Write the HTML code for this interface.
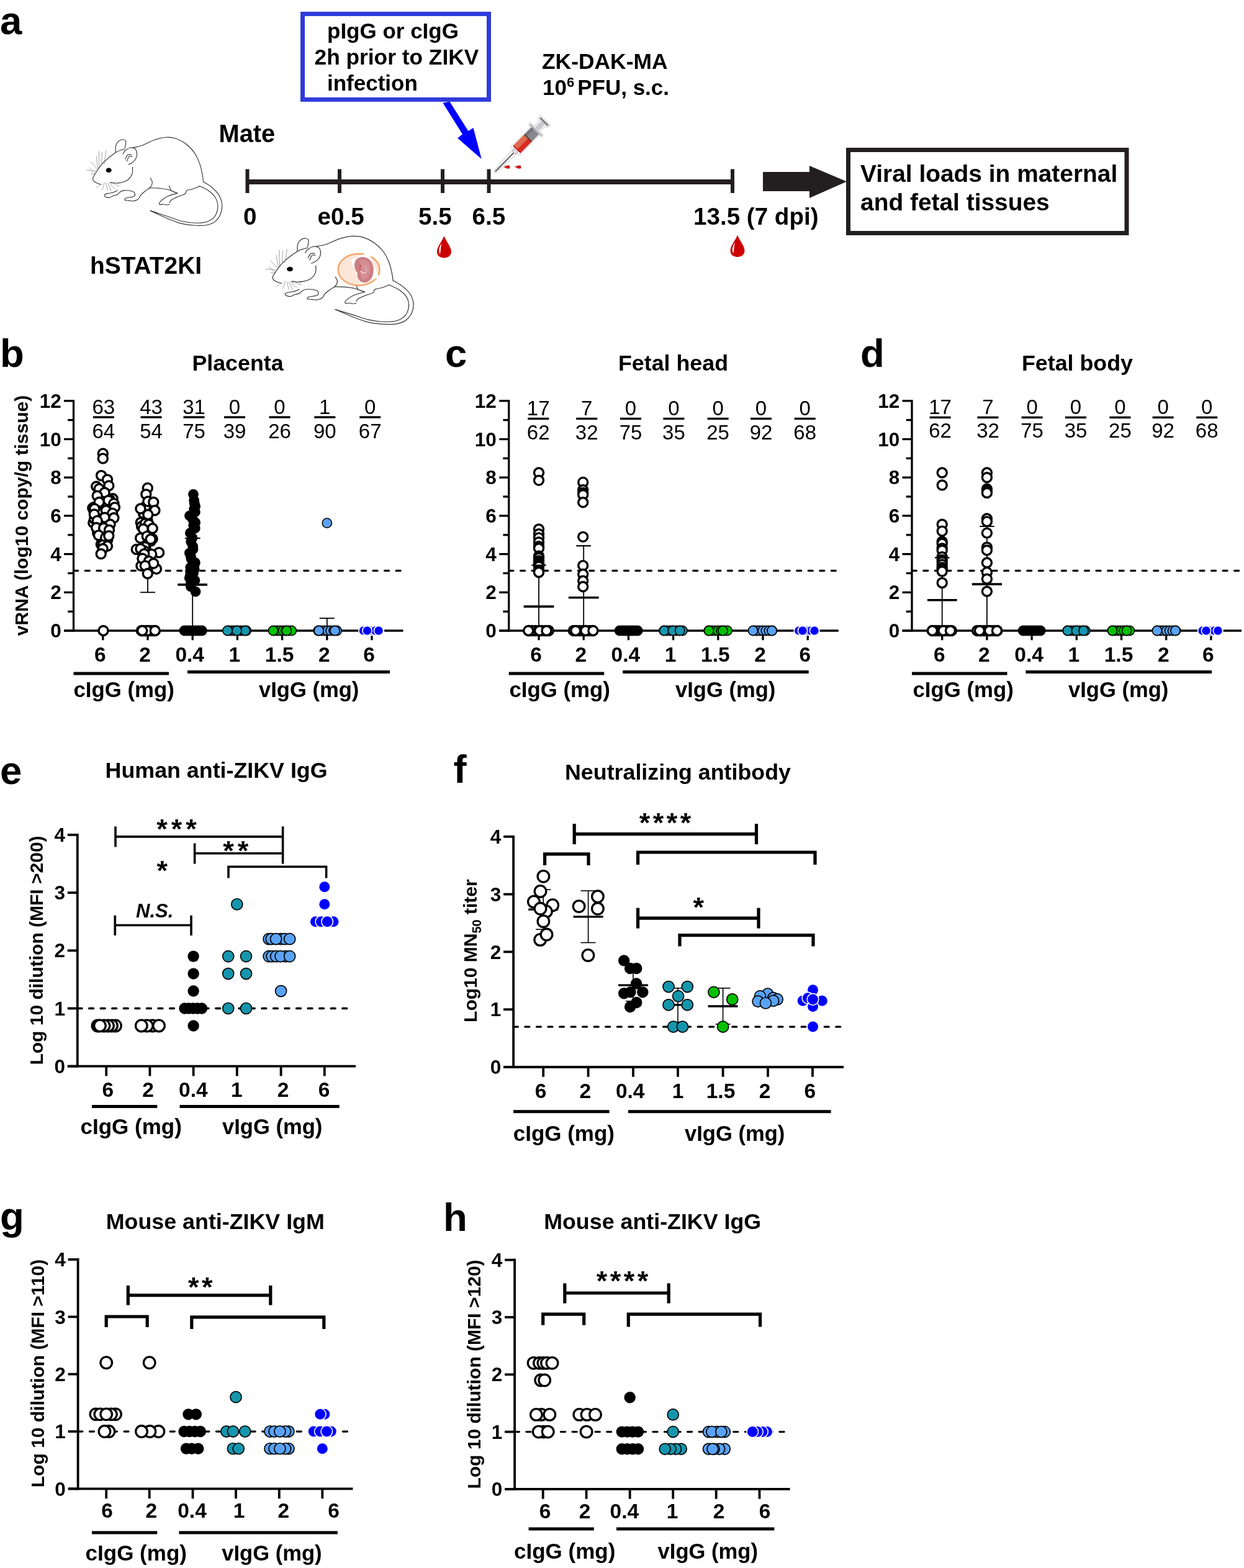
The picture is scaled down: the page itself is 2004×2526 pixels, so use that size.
<!DOCTYPE html>
<html><head><meta charset="utf-8"><title>Figure</title>
<style>html,body{margin:0;padding:0;background:#fff;}svg{display:block;}</style></head>
<body><svg width="2004" height="2526" viewBox="0 0 2004 2526" font-family="&quot;Liberation Sans&quot;, Arial, Helvetica, sans-serif">
<rect width="2004" height="2526" fill="#fff"/>
<text x="0" y="54.5" font-size="63.5" font-weight="bold" text-anchor="start" fill="#000" >a</text>
<rect x="487.5" y="22.4" width="300" height="138" fill="none" stroke="#2e3bdb" stroke-width="7"/>
<text x="527" y="61.7" font-size="35" font-weight="bold" text-anchor="start" fill="#000" >pIgG or cIgG</text>
<text x="506.5" y="103.7" font-size="35.3" font-weight="bold" text-anchor="start" fill="#000" >2h prior to ZIKV</text>
<text x="527" y="145.7" font-size="35" font-weight="bold" text-anchor="start" fill="#000" >infection</text>
<polygon points="713.4,165.7 724.5,163.7 754.3,211 762.5,206.1 775.7,256.1 737.1,222.5 745,216.3" fill="#0000ff"/>
<text x="352.5" y="229" font-size="39.8" font-weight="bold" text-anchor="start" fill="#000" >Mate</text>
<text x="145" y="441.3" font-size="38.9" font-weight="bold" text-anchor="start" fill="#000" >hSTAT2KI</text>
<rect x="398.5" y="289" width="781.5" height="8" fill="#231f20"/>
<rect x="395.5" y="272.5" width="6" height="38.5" fill="#231f20"/>
<rect x="544" y="272.5" width="6" height="38.5" fill="#231f20"/>
<rect x="710" y="272.5" width="6" height="38.5" fill="#231f20"/>
<rect x="784.5" y="272.5" width="6" height="38.5" fill="#231f20"/>
<rect x="1177" y="272.5" width="6" height="38.5" fill="#231f20"/>
<text x="392" y="361.5" font-size="38.6" font-weight="bold" text-anchor="start" fill="#000" >0</text>
<text x="511.5" y="361.5" font-size="38.6" font-weight="bold" text-anchor="start" fill="#000" >e0.5</text>
<text x="674" y="361.5" font-size="38.6" font-weight="bold" text-anchor="start" fill="#000" >5.5</text>
<text x="760.5" y="361.5" font-size="38.6" font-weight="bold" text-anchor="start" fill="#000" >6.5</text>
<text x="1117" y="361.5" font-size="38.6" font-weight="bold" text-anchor="start" fill="#000" >13.5 (7 dpi)</text>
<path d="M715.4,380 C718.4,389 726.9,397 726.9,405.5 C726.9,412 721.4,415.5 715.4,415.5 C709.4,415.5 703.9,412 703.9,405.5 C703.9,397 712.4,389 715.4,380 Z" fill="#cc0000"/>
<path d="M711.4,392 C707.4,398 705.9,404 708.9,410 C709.9,404 709.9,398 711.4,392 Z" fill="#ffffff"/>
<path d="M1188,378.5 C1191,387.5 1199.5,395.5 1199.5,404 C1199.5,410.5 1194,414 1188,414 C1182,414 1176.5,410.5 1176.5,404 C1176.5,395.5 1185,387.5 1188,378.5 Z" fill="#cc0000"/>
<path d="M1184,390.5 C1180,396.5 1178.5,402.5 1181.5,408.5 C1182.5,402.5 1182.5,396.5 1184,390.5 Z" fill="#ffffff"/>
<text x="873" y="111" font-size="35.4" font-weight="bold" text-anchor="start" fill="#000" >ZK-DAK-MA</text>
<text x="874" y="153" font-size="35" font-weight="bold">10<tspan font-size="22" dy="-13">6</tspan><tspan dy="13" dx="5">PFU, s.c.</tspan></text>
<polygon points="1229,277 1304,277 1304,267 1364,292.5 1304,319 1304,308 1229,308" fill="#231f20"/>
<rect x="1366.5" y="241.5" width="448.5" height="134" fill="none" stroke="#231f20" stroke-width="7"/>
<text x="1386" y="293" font-size="38.9" font-weight="bold" text-anchor="start" fill="#000" >Viral loads in maternal</text>
<text x="1386" y="339" font-size="38.9" font-weight="bold" text-anchor="start" fill="#000" >and fetal tissues</text>
<g transform="translate(797.5,276.7) rotate(-45.6)">
<path d="M-1,-2 L44,-5 L48,-9.5 L92,-9.5 L92,-14.5 L96.5,-14.5 L96.5,-6 L110,-6 L110,-11 L116,-11 L116,11 L110,11 L110,6 L96.5,6 L96.5,14.5 L92,14.5 L92,9.5 L48,9.5 L44,5 L-1,2 Z" fill="#ffffff" stroke="#e6e6e6" stroke-width="2.5" stroke-linejoin="round"/>
<line x1="0.5" y1="0" x2="45" y2="0" stroke="#4a4a4a" stroke-width="1.8"/>
<line x1="2" y1="1.2" x2="44" y2="1.2" stroke="#bdbdbd" stroke-width="0.8"/>
<circle cx="47" cy="0" r="4.6" fill="#dcdce0" stroke="#9a9a9e" stroke-width="0.8"/>
<rect x="50" y="-8.2" width="26" height="16.4" fill="#d92a22"/>
<rect x="50" y="-8.2" width="26" height="8.6" fill="#df6a4e"/>
<rect x="50" y="-8.2" width="1.5" height="16.4" fill="#c0161a"/>
<rect x="76" y="-8.2" width="16.6" height="16.4" fill="#88888e"/>
<rect x="76" y="-8.2" width="16.6" height="5" fill="#75757b"/>
<line x1="76" y1="-8.2" x2="76" y2="8.2" stroke="#1e1e1e" stroke-width="1.2"/>
<rect x="92.6" y="-13" width="2.8" height="26" fill="#b4b4bc"/>
<rect x="95.4" y="-4" width="16" height="8" fill="#c9c9d0"/>
<rect x="111.4" y="-9" width="3" height="18" fill="#7e7e86"/>
</g>
<path d="M810.5,269 C814.5,266.4 817.5,265.8 819,265.8 C821,265.8 822,267 822,269 C822,271 821,272.2 819,272.2 C817.5,272.2 814.5,271.6 810.5,269 Z" fill="#d0141a" stroke="#f2e2e2" stroke-width="1.2"/>
<path d="M828.5,269 C832.5,266.4 835.5,265.8 837,265.8 C839,265.8 840,267 840,269 C840,271 839,272.2 837,272.2 C835.5,272.2 832.5,271.6 828.5,269 Z" fill="#d0141a" stroke="#f2e2e2" stroke-width="1.2"/>
<g transform="translate(130,210) scale(0.14035,0.14035)" fill="none" stroke-linecap="round" stroke-linejoin="round">
<path d="M600,198 C650,184.67 658.33,190 700,175 C741.67,160 803.33,123.83 850,108 C896.67,92.17 940,82.67 980,80 C1020,77.33 1053.33,80.33 1090,92 C1126.67,103.67 1165,123.67 1200,150 C1235,176.33 1272.5,211.67 1300,250 C1327.5,288.33 1349.17,338.33 1365,380 C1380.83,421.67 1387.83,465 1395,500 C1402.17,535 1413,566.67 1408,590 C1403,613.33 1384.67,626.33 1365,640 C1345.33,653.67 1315,663.33 1290,672 C1265,680.67 1245,683.67 1215,692 C1185,700.33 1144.17,723.67 1110,722 C1075.83,720.33 1045,691.67 1010,682 C975,672.33 936.67,667.67 900,664 C863.33,660.33 828.67,640.33 790,660 C751.33,679.67 696.33,770.67 668,782 C639.67,793.33 648,743.33 620,728 C592,712.67 533.33,688.33 500,690 C466.67,691.67 446.67,753 420,738 C393.33,723 370.83,619.33 340,600 C309.17,580.67 266.67,625 235,622 C203.33,619 162.5,601 150,582 C137.5,563 143.33,541.67 160,508 C176.67,474.33 210,422.17 250,380 C290,337.83 341.67,285.33 400,255 C458.33,224.67 550,211.33 600,198Z" fill="white" stroke="none"/>
<path d="M600,198 C616.67,194.17 658.33,190 700,175 C741.67,160 803.33,123.83 850,108 C896.67,92.17 940,82.67 980,80 C1020,77.33 1053.33,80.33 1090,92 C1126.67,103.67 1165,123.67 1200,150 C1235,176.33 1272.5,211.67 1300,250 C1327.5,288.33 1349.17,338.33 1365,380 C1380.83,421.67 1387.83,465 1395,500 C1402.17,535 1405.83,575 1408,590" stroke="#333" stroke-width="8"/>
<path d="M1408,590 C1423.33,600 1470.5,625 1500,650 C1529.5,675 1564.67,706.67 1585,740 C1605.33,773.33 1618.67,813.33 1622,850 C1625.33,886.67 1618.67,927 1605,960 C1591.33,993 1567.5,1026.67 1540,1048 C1512.5,1069.33 1480,1081 1440,1088 C1400,1095 1348.33,1093.33 1300,1090 C1251.67,1086.67 1201.67,1081.33 1150,1068 C1098.33,1054.67 1048.33,1034.33 990,1010 C931.67,985.67 831.67,936.67 800,922" stroke="#333" stroke-width="8"/>
<path d="M800,922 C833.33,933 941.67,968.33 1000,988 C1058.33,1007.67 1100,1027.67 1150,1040 C1200,1052.33 1253.33,1059.5 1300,1062 C1346.67,1064.5 1392,1065.33 1430,1055 C1468,1044.67 1504.33,1025.83 1528,1000 C1551.67,974.17 1567.33,935 1572,900 C1576.67,865 1571.67,823.33 1556,790 C1540.33,756.67 1509.83,725 1478,700 C1446.17,675 1383.83,650 1365,640" stroke="#333" stroke-width="8"/>
<path d="M1365,640 C1352.5,645.33 1315,663.33 1290,672 C1265,680.67 1230,682.67 1215,692 C1200,701.33 1215.83,716.67 1200,728 C1184.17,739.33 1146.67,748 1120,760 C1093.33,772 1056.67,788.33 1040,800 C1023.33,811.67 1023.33,825 1020,830" stroke="#333" stroke-width="8"/>
<path d="M1110,722 C1093.33,727 1036.67,741.5 1010,752 C983.33,762.5 967.5,772 950,785 C932.5,798 911.67,818.83 905,830 C898.33,841.17 902.5,849 910,852 C917.5,855 937.5,847.5 950,848 C962.5,848.5 973.33,854.67 985,855 C996.67,855.33 1014.17,850.83 1020,850" stroke="#333" stroke-width="8"/>
<path d="M1015,635 C1019.17,644.17 1024.17,675.5 1040,690 C1055.83,704.5 1098.33,716.67 1110,722" stroke="#333" stroke-width="8"/>
<path d="M790,660 C808.33,660.67 863.33,660.33 900,664 C936.67,667.67 975,672.33 1010,682 C1045,691.67 1093.33,715.33 1110,722" stroke="#333" stroke-width="8"/>
<path d="M800,548 C803.67,556.67 822.33,582.17 822,600 C821.67,617.83 810,640 798,655 C786,670 768,675.5 750,690 C732,704.5 703.67,726.67 690,742 C676.33,757.33 676.33,772 668,782 C659.67,792 644.67,798.67 640,802" stroke="#333" stroke-width="8"/>
<path d="M640,802 C633.33,803.67 614.17,811.33 600,812 C585.83,812.67 570.33,807.67 555,806 C539.67,804.33 514.67,806.33 508,802 C501.33,797.67 506.33,785.33 515,780 C523.67,774.67 543.83,773.67 560,770 C576.17,766.33 601.67,765 612,758 C622.33,751 624.83,737.67 622,728 C619.17,718.33 615.33,706.33 595,700 C574.67,693.67 523.33,689.17 500,690 C476.67,690.83 468.33,697 455,705 C441.67,713 425.83,732.5 420,738" stroke="#333" stroke-width="8"/>
<path d="M420,738 C411.67,740.33 385,746.33 370,752 C355,757.67 344.17,770.33 330,772 C315.83,773.67 294.67,767.33 285,762 C275.33,756.67 267.83,746.17 272,740 C276.17,733.83 292.83,729.67 310,725 C327.17,720.33 356.67,717.83 375,712 C393.33,706.17 412.5,693.67 420,690" stroke="#333" stroke-width="8"/>
<path d="M595,420 C594.17,433.33 599.17,475 590,500 C580.83,525 561.67,553.33 540,570 C518.33,586.67 483.33,594 460,600 C436.67,606 420,606 400,606 C380,606 350,601 340,600" stroke="#333" stroke-width="8"/>
<path d="M235,622 C225.83,618.67 194.17,608.67 180,602 C165.83,595.33 156.67,589.83 150,582 C143.33,574.17 138.33,567.33 140,555 C141.67,542.67 141.67,537.17 160,508 C178.33,478.83 210,422.17 250,380 C290,337.83 363.33,280.83 400,255 C436.67,229.17 452.5,231.83 470,225 C487.5,218.17 499.17,215.83 505,214" stroke="#333" stroke-width="8"/>
<path d="M400,252 C400.83,238.33 398.33,192 405,170 C411.67,148 426.17,130.83 440,120 C453.83,109.17 475,103.67 488,105 C501,106.33 514.67,111.33 518,128 C521.33,144.67 509.67,192.17 508,205" stroke="#333" stroke-width="8"/>
<path d="M485,272 C489.5,265 497.83,242 512,230 C526.17,218 551.17,203 570,200 C588.83,197 612.5,200.33 625,212 C637.5,223.67 644.17,250.33 645,270 C645.83,289.67 639.17,313 630,330 C620.83,347 603.67,361.67 590,372 C576.33,382.33 555,388.67 548,392" stroke="#333" stroke-width="8"/>
<path d="M512,330 C516.67,322 527.83,290.67 540,282 C552.17,273.33 577.5,278.67 585,278" stroke="#333" stroke-width="8"/>
<path d="M530,355 C534.17,345.83 545,309.17 555,300 C565,290.83 584.17,300 590,300" stroke="#333" stroke-width="8"/>
<path d="M190,440 C183.33,433.33 162,413 150,400 C138,387 123.33,368.33 118,362" stroke="#777" stroke-width="5"/>
<path d="M200,432 C198,421.67 191.33,392 188,370 C184.67,348 181.33,311.67 180,300" stroke="#777" stroke-width="5"/>
<path d="M214,420 C213.33,405 210.67,360 210,330 C209.33,300 210,255 210,240" stroke="#777" stroke-width="5"/>
<path d="M240,400 C240.33,388.33 240.67,355 242,330 C243.33,305 247,263.33 248,250" stroke="#777" stroke-width="5"/>
<path d="M268,385 C270,372.5 276,335.5 280,310 C284,284.5 290,245 292,232" stroke="#777" stroke-width="5"/>
<path d="M172,468 C163.33,467 137,463.67 120,462 C103,460.33 78.33,458.67 70,458" stroke="#777" stroke-width="5"/>
<path d="M162,492 C156.67,486.67 140.33,470.33 130,460 C119.67,449.67 105,435 100,430" stroke="#777" stroke-width="5"/>
<path d="M170,505 C165,504.17 148.33,500.83 140,500 C131.67,499.17 123.33,500 120,500" stroke="#777" stroke-width="5"/>
<path d="M270,600 C268.67,606.67 266.17,626.67 262,640 C257.83,653.33 247.83,673.33 245,680" stroke="#777" stroke-width="5"/>
<path d="M290,605 C291.67,612.5 296.67,635.83 300,650 C303.33,664.17 308.33,683.33 310,690" stroke="#777" stroke-width="5"/>
<path d="M310,605 C313.33,612.5 323.33,635.83 330,650 C336.67,664.17 346.67,683.33 350,690" stroke="#777" stroke-width="5"/>
<path d="M330,600 C335,606.67 350,628.33 360,640 C370,651.67 385,665 390,670" stroke="#777" stroke-width="5"/>
<path d="M350,590 C358.33,595 385,611.67 400,620 C415,628.33 433.33,636.67 440,640" stroke="#777" stroke-width="5"/>
<path d="M230,618 C225,621.67 208.33,633 200,640 C191.67,647 183.33,656.67 180,660" stroke="#777" stroke-width="5"/>
<ellipse cx="322" cy="458" rx="32" ry="27" fill="#000" stroke="none"/>
</g>
<g transform="translate(417.8,369.2) scale(0.15298,0.14035)" fill="none" stroke-linecap="round" stroke-linejoin="round">
<path d="M600,198 C650,184.67 658.33,190 700,175 C741.67,160 803.33,123.83 850,108 C896.67,92.17 940,82.67 980,80 C1020,77.33 1053.33,80.33 1090,92 C1126.67,103.67 1165,123.67 1200,150 C1235,176.33 1272.5,211.67 1300,250 C1327.5,288.33 1349.17,338.33 1365,380 C1380.83,421.67 1387.83,465 1395,500 C1402.17,535 1413,566.67 1408,590 C1403,613.33 1384.67,626.33 1365,640 C1345.33,653.67 1315,663.33 1290,672 C1265,680.67 1245,683.67 1215,692 C1185,700.33 1144.17,723.67 1110,722 C1075.83,720.33 1045,691.67 1010,682 C975,672.33 936.67,667.67 900,664 C863.33,660.33 828.67,640.33 790,660 C751.33,679.67 696.33,770.67 668,782 C639.67,793.33 648,743.33 620,728 C592,712.67 533.33,688.33 500,690 C466.67,691.67 446.67,753 420,738 C393.33,723 370.83,619.33 340,600 C309.17,580.67 266.67,625 235,622 C203.33,619 162.5,601 150,582 C137.5,563 143.33,541.67 160,508 C176.67,474.33 210,422.17 250,380 C290,337.83 341.67,285.33 400,255 C458.33,224.67 550,211.33 600,198Z" fill="white" stroke="none"/>
<path d="M600,198 C616.67,194.17 658.33,190 700,175 C741.67,160 803.33,123.83 850,108 C896.67,92.17 940,82.67 980,80 C1020,77.33 1053.33,80.33 1090,92 C1126.67,103.67 1165,123.67 1200,150 C1235,176.33 1272.5,211.67 1300,250 C1327.5,288.33 1349.17,338.33 1365,380 C1380.83,421.67 1387.83,465 1395,500 C1402.17,535 1405.83,575 1408,590" stroke="#333" stroke-width="8"/>
<path d="M1408,590 C1423.33,600 1470.5,625 1500,650 C1529.5,675 1564.67,706.67 1585,740 C1605.33,773.33 1618.67,813.33 1622,850 C1625.33,886.67 1618.67,927 1605,960 C1591.33,993 1567.5,1026.67 1540,1048 C1512.5,1069.33 1480,1081 1440,1088 C1400,1095 1348.33,1093.33 1300,1090 C1251.67,1086.67 1201.67,1081.33 1150,1068 C1098.33,1054.67 1048.33,1034.33 990,1010 C931.67,985.67 831.67,936.67 800,922" stroke="#333" stroke-width="8"/>
<path d="M800,922 C833.33,933 941.67,968.33 1000,988 C1058.33,1007.67 1100,1027.67 1150,1040 C1200,1052.33 1253.33,1059.5 1300,1062 C1346.67,1064.5 1392,1065.33 1430,1055 C1468,1044.67 1504.33,1025.83 1528,1000 C1551.67,974.17 1567.33,935 1572,900 C1576.67,865 1571.67,823.33 1556,790 C1540.33,756.67 1509.83,725 1478,700 C1446.17,675 1383.83,650 1365,640" stroke="#333" stroke-width="8"/>
<path d="M1365,640 C1352.5,645.33 1315,663.33 1290,672 C1265,680.67 1230,682.67 1215,692 C1200,701.33 1215.83,716.67 1200,728 C1184.17,739.33 1146.67,748 1120,760 C1093.33,772 1056.67,788.33 1040,800 C1023.33,811.67 1023.33,825 1020,830" stroke="#333" stroke-width="8"/>
<path d="M1110,722 C1093.33,727 1036.67,741.5 1010,752 C983.33,762.5 967.5,772 950,785 C932.5,798 911.67,818.83 905,830 C898.33,841.17 902.5,849 910,852 C917.5,855 937.5,847.5 950,848 C962.5,848.5 973.33,854.67 985,855 C996.67,855.33 1014.17,850.83 1020,850" stroke="#333" stroke-width="8"/>
<path d="M1015,635 C1019.17,644.17 1024.17,675.5 1040,690 C1055.83,704.5 1098.33,716.67 1110,722" stroke="#333" stroke-width="8"/>
<path d="M790,660 C808.33,660.67 863.33,660.33 900,664 C936.67,667.67 975,672.33 1010,682 C1045,691.67 1093.33,715.33 1110,722" stroke="#333" stroke-width="8"/>
<path d="M800,548 C803.67,556.67 822.33,582.17 822,600 C821.67,617.83 810,640 798,655 C786,670 768,675.5 750,690 C732,704.5 703.67,726.67 690,742 C676.33,757.33 676.33,772 668,782 C659.67,792 644.67,798.67 640,802" stroke="#333" stroke-width="8"/>
<path d="M640,802 C633.33,803.67 614.17,811.33 600,812 C585.83,812.67 570.33,807.67 555,806 C539.67,804.33 514.67,806.33 508,802 C501.33,797.67 506.33,785.33 515,780 C523.67,774.67 543.83,773.67 560,770 C576.17,766.33 601.67,765 612,758 C622.33,751 624.83,737.67 622,728 C619.17,718.33 615.33,706.33 595,700 C574.67,693.67 523.33,689.17 500,690 C476.67,690.83 468.33,697 455,705 C441.67,713 425.83,732.5 420,738" stroke="#333" stroke-width="8"/>
<path d="M420,738 C411.67,740.33 385,746.33 370,752 C355,757.67 344.17,770.33 330,772 C315.83,773.67 294.67,767.33 285,762 C275.33,756.67 267.83,746.17 272,740 C276.17,733.83 292.83,729.67 310,725 C327.17,720.33 356.67,717.83 375,712 C393.33,706.17 412.5,693.67 420,690" stroke="#333" stroke-width="8"/>
<path d="M595,420 C594.17,433.33 599.17,475 590,500 C580.83,525 561.67,553.33 540,570 C518.33,586.67 483.33,594 460,600 C436.67,606 420,606 400,606 C380,606 350,601 340,600" stroke="#333" stroke-width="8"/>
<path d="M235,622 C225.83,618.67 194.17,608.67 180,602 C165.83,595.33 156.67,589.83 150,582 C143.33,574.17 138.33,567.33 140,555 C141.67,542.67 141.67,537.17 160,508 C178.33,478.83 210,422.17 250,380 C290,337.83 363.33,280.83 400,255 C436.67,229.17 452.5,231.83 470,225 C487.5,218.17 499.17,215.83 505,214" stroke="#333" stroke-width="8"/>
<path d="M400,252 C400.83,238.33 398.33,192 405,170 C411.67,148 426.17,130.83 440,120 C453.83,109.17 475,103.67 488,105 C501,106.33 514.67,111.33 518,128 C521.33,144.67 509.67,192.17 508,205" stroke="#333" stroke-width="8"/>
<path d="M485,272 C489.5,265 497.83,242 512,230 C526.17,218 551.17,203 570,200 C588.83,197 612.5,200.33 625,212 C637.5,223.67 644.17,250.33 645,270 C645.83,289.67 639.17,313 630,330 C620.83,347 603.67,361.67 590,372 C576.33,382.33 555,388.67 548,392" stroke="#333" stroke-width="8"/>
<path d="M512,330 C516.67,322 527.83,290.67 540,282 C552.17,273.33 577.5,278.67 585,278" stroke="#333" stroke-width="8"/>
<path d="M530,355 C534.17,345.83 545,309.17 555,300 C565,290.83 584.17,300 590,300" stroke="#333" stroke-width="8"/>
<path d="M190,440 C183.33,433.33 162,413 150,400 C138,387 123.33,368.33 118,362" stroke="#777" stroke-width="5"/>
<path d="M200,432 C198,421.67 191.33,392 188,370 C184.67,348 181.33,311.67 180,300" stroke="#777" stroke-width="5"/>
<path d="M214,420 C213.33,405 210.67,360 210,330 C209.33,300 210,255 210,240" stroke="#777" stroke-width="5"/>
<path d="M240,400 C240.33,388.33 240.67,355 242,330 C243.33,305 247,263.33 248,250" stroke="#777" stroke-width="5"/>
<path d="M268,385 C270,372.5 276,335.5 280,310 C284,284.5 290,245 292,232" stroke="#777" stroke-width="5"/>
<path d="M172,468 C163.33,467 137,463.67 120,462 C103,460.33 78.33,458.67 70,458" stroke="#777" stroke-width="5"/>
<path d="M162,492 C156.67,486.67 140.33,470.33 130,460 C119.67,449.67 105,435 100,430" stroke="#777" stroke-width="5"/>
<path d="M170,505 C165,504.17 148.33,500.83 140,500 C131.67,499.17 123.33,500 120,500" stroke="#777" stroke-width="5"/>
<path d="M270,600 C268.67,606.67 266.17,626.67 262,640 C257.83,653.33 247.83,673.33 245,680" stroke="#777" stroke-width="5"/>
<path d="M290,605 C291.67,612.5 296.67,635.83 300,650 C303.33,664.17 308.33,683.33 310,690" stroke="#777" stroke-width="5"/>
<path d="M310,605 C313.33,612.5 323.33,635.83 330,650 C336.67,664.17 346.67,683.33 350,690" stroke="#777" stroke-width="5"/>
<path d="M330,600 C335,606.67 350,628.33 360,640 C370,651.67 385,665 390,670" stroke="#777" stroke-width="5"/>
<path d="M350,590 C358.33,595 385,611.67 400,620 C415,628.33 433.33,636.67 440,640" stroke="#777" stroke-width="5"/>
<path d="M230,618 C225,621.67 208.33,633 200,640 C191.67,647 183.33,656.67 180,660" stroke="#777" stroke-width="5"/>
<ellipse cx="322" cy="458" rx="32" ry="27" fill="#000" stroke="none"/>
</g>
<ellipse cx="578.1" cy="434.3" rx="33.4" ry="25.5" fill="#fde6d8" stroke="#f4a468" stroke-width="2.4"/>
<polygon points="565,418.5 585,410.5 594,405.5 610.5,447 580,457.5" fill="#ffffff"/>
<path d="M574,418 C582,410 598,414 601,428 C604,442 598,454 588,455 C580,456 574,448 576,440 C572,436 568,426 574,418 Z" fill="#cc7e85"/>
<path d="M578,421 C585,416 594,419 596,428 C598,438 594,448 588,450 C583,451 580,446 581,440 C584,434 582,428 578,421 Z" fill="#d8959a" opacity="0.7"/>
<path d="M580,436 C583,440 586,441 590,439" fill="none" stroke="#f4dfe2" stroke-width="1.3"/>
<path d="M587,428 C590,431 591,435 590,438" fill="none" stroke="#eed2d6" stroke-width="1"/>
<circle cx="580.5" cy="428.5" r="0.9" fill="#5a1a20"/>
<ellipse cx="580" cy="434" rx="1.6" ry="2.4" fill="#d2606a"/>
<text x="0" y="591" font-size="63.5" font-weight="bold" text-anchor="start" fill="#000" >b</text>
<text x="383" y="596.5" font-size="35.8" font-weight="bold" text-anchor="middle" fill="#000" >Placenta</text>
<text transform="translate(45,830.5) rotate(-90)" font-size="30" font-weight="bold" text-anchor="middle">vRNA (log10 copy/g tissue)</text>
<line x1="118.5" y1="644.15" x2="118.5" y2="1017.65" stroke="#000" stroke-width="3.3" stroke-linecap="butt"/>
<line x1="103" y1="1016" x2="118.5" y2="1016" stroke="#000" stroke-width="3.3" stroke-linecap="butt"/>
<text x="98.7" y="1027.18" font-size="31.5" font-weight="bold" text-anchor="end" fill="#000" >0</text>
<line x1="103" y1="954.3" x2="118.5" y2="954.3" stroke="#000" stroke-width="3.3" stroke-linecap="butt"/>
<text x="98.7" y="965.48" font-size="31.5" font-weight="bold" text-anchor="end" fill="#000" >2</text>
<line x1="103" y1="892.6" x2="118.5" y2="892.6" stroke="#000" stroke-width="3.3" stroke-linecap="butt"/>
<text x="98.7" y="903.78" font-size="31.5" font-weight="bold" text-anchor="end" fill="#000" >4</text>
<line x1="103" y1="830.9" x2="118.5" y2="830.9" stroke="#000" stroke-width="3.3" stroke-linecap="butt"/>
<text x="98.7" y="842.08" font-size="31.5" font-weight="bold" text-anchor="end" fill="#000" >6</text>
<line x1="103" y1="769.2" x2="118.5" y2="769.2" stroke="#000" stroke-width="3.3" stroke-linecap="butt"/>
<text x="98.7" y="780.38" font-size="31.5" font-weight="bold" text-anchor="end" fill="#000" >8</text>
<line x1="103" y1="707.5" x2="118.5" y2="707.5" stroke="#000" stroke-width="3.3" stroke-linecap="butt"/>
<text x="98.7" y="718.68" font-size="31.5" font-weight="bold" text-anchor="end" fill="#000" >10</text>
<line x1="103" y1="645.8" x2="118.5" y2="645.8" stroke="#000" stroke-width="3.3" stroke-linecap="butt"/>
<text x="98.7" y="656.98" font-size="31.5" font-weight="bold" text-anchor="end" fill="#000" >12</text>
<line x1="109.2" y1="985.15" x2="118.5" y2="985.15" stroke="#000" stroke-width="3.3" stroke-linecap="butt"/>
<line x1="109.2" y1="923.45" x2="118.5" y2="923.45" stroke="#000" stroke-width="3.3" stroke-linecap="butt"/>
<line x1="109.2" y1="861.75" x2="118.5" y2="861.75" stroke="#000" stroke-width="3.3" stroke-linecap="butt"/>
<line x1="109.2" y1="800.05" x2="118.5" y2="800.05" stroke="#000" stroke-width="3.3" stroke-linecap="butt"/>
<line x1="109.2" y1="738.35" x2="118.5" y2="738.35" stroke="#000" stroke-width="3.3" stroke-linecap="butt"/>
<line x1="109.2" y1="676.65" x2="118.5" y2="676.65" stroke="#000" stroke-width="3.3" stroke-linecap="butt"/>
<line x1="103" y1="1016" x2="649.5" y2="1016" stroke="#000" stroke-width="3.3" stroke-linecap="butt"/>
<line x1="165.8" y1="1016" x2="165.8" y2="1031.3" stroke="#000" stroke-width="3.3" stroke-linecap="butt"/>
<line x1="238" y1="1016" x2="238" y2="1031.3" stroke="#000" stroke-width="3.3" stroke-linecap="butt"/>
<line x1="310.2" y1="1016" x2="310.2" y2="1031.3" stroke="#000" stroke-width="3.3" stroke-linecap="butt"/>
<line x1="382.4" y1="1016" x2="382.4" y2="1031.3" stroke="#000" stroke-width="3.3" stroke-linecap="butt"/>
<line x1="454.6" y1="1016" x2="454.6" y2="1031.3" stroke="#000" stroke-width="3.3" stroke-linecap="butt"/>
<line x1="526.8" y1="1016" x2="526.8" y2="1031.3" stroke="#000" stroke-width="3.3" stroke-linecap="butt"/>
<line x1="599" y1="1016" x2="599" y2="1031.3" stroke="#000" stroke-width="3.3" stroke-linecap="butt"/>
<text x="161.3" y="1066.3" font-size="33.5" font-weight="bold" text-anchor="middle" fill="#000" >6</text>
<text x="233.5" y="1066.3" font-size="33.5" font-weight="bold" text-anchor="middle" fill="#000" >2</text>
<text x="305.7" y="1066.3" font-size="33.5" font-weight="bold" text-anchor="middle" fill="#000" >0.4</text>
<text x="377.9" y="1066.3" font-size="33.5" font-weight="bold" text-anchor="middle" fill="#000" >1</text>
<text x="450.1" y="1066.3" font-size="33.5" font-weight="bold" text-anchor="middle" fill="#000" >1.5</text>
<text x="522.3" y="1066.3" font-size="33.5" font-weight="bold" text-anchor="middle" fill="#000" >2</text>
<text x="594.5" y="1066.3" font-size="33.5" font-weight="bold" text-anchor="middle" fill="#000" >6</text>
<rect x="118.5" y="1082.5" width="153.5" height="5" fill="black"/>
<rect x="302" y="1080" width="326" height="5" fill="black"/>
<text x="118.5" y="1123.3" font-size="34.8" font-weight="bold" text-anchor="start" fill="#000" >cIgG (mg)</text>
<text x="417" y="1123.3" font-size="34.6" font-weight="bold" text-anchor="start" fill="#000" >vIgG (mg)</text>
<text x="166.8" y="666.7" font-size="33" font-weight="normal" text-anchor="middle" fill="#000" >63</text>
<rect x="149.8" y="670.4" width="34" height="3.4" fill="black"/>
<text x="166.8" y="705.6" font-size="33" font-weight="normal" text-anchor="middle" fill="#000" >64</text>
<text x="243.6" y="666.7" font-size="33" font-weight="normal" text-anchor="middle" fill="#000" >43</text>
<rect x="226.6" y="670.4" width="34" height="3.4" fill="black"/>
<text x="243.6" y="705.6" font-size="33" font-weight="normal" text-anchor="middle" fill="#000" >54</text>
<text x="312.5" y="666.7" font-size="33" font-weight="normal" text-anchor="middle" fill="#000" >31</text>
<rect x="295.5" y="670.4" width="34" height="3.4" fill="black"/>
<text x="312.5" y="705.6" font-size="33" font-weight="normal" text-anchor="middle" fill="#000" >75</text>
<text x="378" y="666.7" font-size="33" font-weight="normal" text-anchor="middle" fill="#000" >0</text>
<rect x="361" y="670.4" width="34" height="3.4" fill="black"/>
<text x="378" y="705.6" font-size="33" font-weight="normal" text-anchor="middle" fill="#000" >39</text>
<text x="450.5" y="666.7" font-size="33" font-weight="normal" text-anchor="middle" fill="#000" >0</text>
<rect x="433.5" y="670.4" width="34" height="3.4" fill="black"/>
<text x="450.5" y="705.6" font-size="33" font-weight="normal" text-anchor="middle" fill="#000" >26</text>
<text x="523.3" y="666.7" font-size="33" font-weight="normal" text-anchor="middle" fill="#000" >1</text>
<rect x="506.3" y="670.4" width="34" height="3.4" fill="black"/>
<text x="523.3" y="705.6" font-size="33" font-weight="normal" text-anchor="middle" fill="#000" >90</text>
<text x="596.2" y="666.7" font-size="33" font-weight="normal" text-anchor="middle" fill="#000" >0</text>
<rect x="579.2" y="670.4" width="34" height="3.4" fill="black"/>
<text x="596.2" y="705.6" font-size="33" font-weight="normal" text-anchor="middle" fill="#000" >67</text>
<line x1="118.75" y1="919.3" x2="646.5" y2="919.3" stroke="#000" stroke-width="3.3" stroke-linecap="round" stroke-dasharray="7 11.55"/>
<line x1="238" y1="954.3" x2="238" y2="886.43" stroke="#000" stroke-width="1.8" stroke-linecap="butt"/>
<line x1="226" y1="886.43" x2="250" y2="886.43" stroke="#000" stroke-width="1.8" stroke-linecap="butt"/>
<line x1="226" y1="954.3" x2="250" y2="954.3" stroke="#000" stroke-width="1.8" stroke-linecap="butt"/>
<line x1="310.2" y1="1016" x2="310.2" y2="866.99" stroke="#000" stroke-width="1.8" stroke-linecap="butt"/>
<line x1="297.95" y1="866.99" x2="322.45" y2="866.99" stroke="#000" stroke-width="1.8" stroke-linecap="butt"/>
<line x1="286.45" y1="941.96" x2="333.95" y2="941.96" stroke="#000" stroke-width="3.3" stroke-linecap="butt"/>
<line x1="526.8" y1="1016" x2="526.8" y2="995.95" stroke="#000" stroke-width="1.8" stroke-linecap="butt"/>
<line x1="514.8" y1="995.95" x2="538.8" y2="995.95" stroke="#000" stroke-width="1.8" stroke-linecap="butt"/>
<circle cx="166.5" cy="1016" r="7.5" fill="white" stroke="black" stroke-width="3.4"/>
<circle cx="227.9" cy="1016" r="7.5" fill="white" stroke="black" stroke-width="3.4"/>
<circle cx="231.52" cy="1016" r="7.5" fill="white" stroke="black" stroke-width="3.4"/>
<circle cx="235.13" cy="1016" r="7.5" fill="white" stroke="black" stroke-width="3.4"/>
<circle cx="238.75" cy="1016" r="7.5" fill="white" stroke="black" stroke-width="3.4"/>
<circle cx="242.37" cy="1016" r="7.5" fill="white" stroke="black" stroke-width="3.4"/>
<circle cx="245.98" cy="1016" r="7.5" fill="white" stroke="black" stroke-width="3.4"/>
<circle cx="249.6" cy="1016" r="7.5" fill="white" stroke="black" stroke-width="3.4"/>
<circle cx="237.6" cy="1016" r="7.5" fill="white" stroke="black" stroke-width="3.4"/>
<circle cx="229.2" cy="1016" r="7.5" fill="white" stroke="black" stroke-width="3.4"/>
<circle cx="249.7" cy="1016" r="7.5" fill="white" stroke="black" stroke-width="3.4"/>
<circle cx="297" cy="1016" r="8.4" fill="black"/>
<circle cx="300.54" cy="1016" r="8.4" fill="black"/>
<circle cx="304.07" cy="1016" r="8.4" fill="black"/>
<circle cx="307.61" cy="1016" r="8.4" fill="black"/>
<circle cx="311.15" cy="1016" r="8.4" fill="black"/>
<circle cx="314.69" cy="1016" r="8.4" fill="black"/>
<circle cx="318.23" cy="1016" r="8.4" fill="black"/>
<circle cx="321.76" cy="1016" r="8.4" fill="black"/>
<circle cx="325.3" cy="1016" r="8.4" fill="black"/>
<circle cx="368.6" cy="1016" r="7.6" fill="#1596ad" stroke="black" stroke-width="1.6"/>
<circle cx="373.3" cy="1016" r="7.6" fill="#1596ad" stroke="black" stroke-width="1.6"/>
<circle cx="378" cy="1016" r="7.6" fill="#1596ad" stroke="black" stroke-width="1.6"/>
<circle cx="382.7" cy="1016" r="7.6" fill="#1596ad" stroke="black" stroke-width="1.6"/>
<circle cx="387.4" cy="1016" r="7.6" fill="#1596ad" stroke="black" stroke-width="1.6"/>
<circle cx="392.1" cy="1016" r="7.6" fill="#1596ad" stroke="black" stroke-width="1.6"/>
<circle cx="396.8" cy="1016" r="7.6" fill="#1596ad" stroke="black" stroke-width="1.6"/>
<circle cx="366.4" cy="1016" r="7.6" fill="#1596ad" stroke="black" stroke-width="1.6"/>
<circle cx="395" cy="1016" r="7.6" fill="#1596ad" stroke="black" stroke-width="1.6"/>
<circle cx="381.5" cy="1016" r="7.6" fill="#1596ad" stroke="black" stroke-width="1.6"/>
<circle cx="442.2" cy="1016" r="7.6" fill="#00c000" stroke="black" stroke-width="1.6"/>
<circle cx="446.8" cy="1016" r="7.6" fill="#00c000" stroke="black" stroke-width="1.6"/>
<circle cx="451.4" cy="1016" r="7.6" fill="#00c000" stroke="black" stroke-width="1.6"/>
<circle cx="456" cy="1016" r="7.6" fill="#00c000" stroke="black" stroke-width="1.6"/>
<circle cx="460.6" cy="1016" r="7.6" fill="#00c000" stroke="black" stroke-width="1.6"/>
<circle cx="465.2" cy="1016" r="7.6" fill="#00c000" stroke="black" stroke-width="1.6"/>
<circle cx="469.8" cy="1016" r="7.6" fill="#00c000" stroke="black" stroke-width="1.6"/>
<circle cx="440" cy="1016" r="7.6" fill="#00c000" stroke="black" stroke-width="1.6"/>
<circle cx="461.7" cy="1016" r="7.6" fill="#00c000" stroke="black" stroke-width="1.6"/>
<circle cx="512.7" cy="1016" r="7.6" fill="#5aa2f5" stroke="black" stroke-width="1.6"/>
<circle cx="517.68" cy="1016" r="7.6" fill="#5aa2f5" stroke="black" stroke-width="1.6"/>
<circle cx="522.67" cy="1016" r="7.6" fill="#5aa2f5" stroke="black" stroke-width="1.6"/>
<circle cx="527.65" cy="1016" r="7.6" fill="#5aa2f5" stroke="black" stroke-width="1.6"/>
<circle cx="532.63" cy="1016" r="7.6" fill="#5aa2f5" stroke="black" stroke-width="1.6"/>
<circle cx="537.62" cy="1016" r="7.6" fill="#5aa2f5" stroke="black" stroke-width="1.6"/>
<circle cx="542.6" cy="1016" r="7.6" fill="#5aa2f5" stroke="black" stroke-width="1.6"/>
<circle cx="513.7" cy="1016" r="7.6" fill="#5aa2f5" stroke="black" stroke-width="1.6"/>
<circle cx="539.5" cy="1016" r="7.6" fill="#5aa2f5" stroke="black" stroke-width="1.6"/>
<circle cx="585.5" cy="1016" r="7.6" fill="#0000ff" stroke="white" stroke-width="1.6"/>
<circle cx="591.83" cy="1016" r="7.6" fill="#0000ff" stroke="white" stroke-width="1.6"/>
<circle cx="598.15" cy="1016" r="7.6" fill="#0000ff" stroke="white" stroke-width="1.6"/>
<circle cx="604.47" cy="1016" r="7.6" fill="#0000ff" stroke="white" stroke-width="1.6"/>
<circle cx="610.8" cy="1016" r="7.6" fill="#0000ff" stroke="white" stroke-width="1.6"/>
<circle cx="591.5" cy="1016" r="7.6" fill="#0000ff" stroke="white" stroke-width="1.6"/>
<circle cx="610" cy="1016" r="7.6" fill="#0000ff" stroke="white" stroke-width="1.6"/>
<circle cx="167.71" cy="828.48" r="7.5" fill="white" stroke="black" stroke-width="3.4"/>
<circle cx="164.7" cy="806.64" r="7.5" fill="white" stroke="black" stroke-width="3.4"/>
<circle cx="168.6" cy="825.91" r="7.5" fill="white" stroke="black" stroke-width="3.4"/>
<circle cx="166.18" cy="840.86" r="7.5" fill="white" stroke="black" stroke-width="3.4"/>
<circle cx="175.18" cy="820.26" r="7.5" fill="white" stroke="black" stroke-width="3.4"/>
<circle cx="159.51" cy="845.05" r="7.5" fill="white" stroke="black" stroke-width="3.4"/>
<circle cx="175.71" cy="845.21" r="7.5" fill="white" stroke="black" stroke-width="3.4"/>
<circle cx="151.14" cy="817.32" r="7.5" fill="white" stroke="black" stroke-width="3.4"/>
<circle cx="180.67" cy="803.96" r="7.5" fill="white" stroke="black" stroke-width="3.4"/>
<circle cx="169.5" cy="819.15" r="7.5" fill="white" stroke="black" stroke-width="3.4"/>
<circle cx="150.28" cy="842.12" r="7.5" fill="white" stroke="black" stroke-width="3.4"/>
<circle cx="151.71" cy="824.96" r="7.5" fill="white" stroke="black" stroke-width="3.4"/>
<circle cx="157.54" cy="840.61" r="7.5" fill="white" stroke="black" stroke-width="3.4"/>
<circle cx="164.65" cy="848.02" r="7.5" fill="white" stroke="black" stroke-width="3.4"/>
<circle cx="176.76" cy="829.02" r="7.5" fill="white" stroke="black" stroke-width="3.4"/>
<circle cx="170.29" cy="825.39" r="7.5" fill="white" stroke="black" stroke-width="3.4"/>
<circle cx="171" cy="826.28" r="7.5" fill="white" stroke="black" stroke-width="3.4"/>
<circle cx="158.7" cy="828.25" r="7.5" fill="white" stroke="black" stroke-width="3.4"/>
<circle cx="181.66" cy="803.24" r="7.5" fill="white" stroke="black" stroke-width="3.4"/>
<circle cx="172.45" cy="810.53" r="7.5" fill="white" stroke="black" stroke-width="3.4"/>
<circle cx="157.15" cy="834.82" r="7.5" fill="white" stroke="black" stroke-width="3.4"/>
<circle cx="152.05" cy="836.03" r="7.5" fill="white" stroke="black" stroke-width="3.4"/>
<circle cx="162.61" cy="813.95" r="7.5" fill="white" stroke="black" stroke-width="3.4"/>
<circle cx="162.17" cy="810.23" r="7.5" fill="white" stroke="black" stroke-width="3.4"/>
<circle cx="176.91" cy="805.08" r="7.5" fill="white" stroke="black" stroke-width="3.4"/>
<circle cx="156.51" cy="849.38" r="7.5" fill="white" stroke="black" stroke-width="3.4"/>
<circle cx="164.84" cy="807.29" r="7.5" fill="white" stroke="black" stroke-width="3.4"/>
<circle cx="162.52" cy="804.04" r="7.5" fill="white" stroke="black" stroke-width="3.4"/>
<circle cx="169.94" cy="846.03" r="7.5" fill="white" stroke="black" stroke-width="3.4"/>
<circle cx="158.43" cy="813.38" r="7.5" fill="white" stroke="black" stroke-width="3.4"/>
<circle cx="160.44" cy="845.38" r="7.5" fill="white" stroke="black" stroke-width="3.4"/>
<circle cx="169.58" cy="864" r="7.5" fill="white" stroke="black" stroke-width="3.4"/>
<circle cx="157.22" cy="858.67" r="7.5" fill="white" stroke="black" stroke-width="3.4"/>
<circle cx="162.79" cy="876.87" r="7.5" fill="white" stroke="black" stroke-width="3.4"/>
<circle cx="173.25" cy="869.57" r="7.5" fill="white" stroke="black" stroke-width="3.4"/>
<circle cx="168.23" cy="858" r="7.5" fill="white" stroke="black" stroke-width="3.4"/>
<circle cx="169.67" cy="861.68" r="7.5" fill="white" stroke="black" stroke-width="3.4"/>
<circle cx="169.13" cy="836.74" r="7.5" fill="white" stroke="black" stroke-width="3.4"/>
<circle cx="172.09" cy="821" r="7.5" fill="white" stroke="black" stroke-width="3.4"/>
<circle cx="160.95" cy="839.45" r="7.5" fill="white" stroke="black" stroke-width="3.4"/>
<circle cx="160.85" cy="840.88" r="7.5" fill="white" stroke="black" stroke-width="3.4"/>
<circle cx="159.14" cy="819.15" r="7.5" fill="white" stroke="black" stroke-width="3.4"/>
<circle cx="160.65" cy="826.66" r="7.5" fill="white" stroke="black" stroke-width="3.4"/>
<circle cx="164.57" cy="835.42" r="7.5" fill="white" stroke="black" stroke-width="3.4"/>
<circle cx="167.75" cy="815.31" r="7.5" fill="white" stroke="black" stroke-width="3.4"/>
<circle cx="161.77" cy="845.79" r="7.5" fill="white" stroke="black" stroke-width="3.4"/>
<circle cx="172.48" cy="840.89" r="7.5" fill="white" stroke="black" stroke-width="3.4"/>
<circle cx="171.31" cy="816.35" r="7.5" fill="white" stroke="black" stroke-width="3.4"/>
<circle cx="170.21" cy="815.73" r="7.5" fill="white" stroke="black" stroke-width="3.4"/>
<circle cx="165.8" cy="730.64" r="7.5" fill="white" stroke="black" stroke-width="3.4"/>
<circle cx="165.8" cy="738.66" r="7.5" fill="white" stroke="black" stroke-width="3.4"/>
<circle cx="163.1" cy="766.12" r="7.5" fill="white" stroke="black" stroke-width="3.4"/>
<circle cx="173" cy="772.59" r="7.5" fill="white" stroke="black" stroke-width="3.4"/>
<circle cx="175.3" cy="782.47" r="7.5" fill="white" stroke="black" stroke-width="3.4"/>
<circle cx="155.2" cy="783.7" r="7.5" fill="white" stroke="black" stroke-width="3.4"/>
<circle cx="159.7" cy="787.4" r="7.5" fill="white" stroke="black" stroke-width="3.4"/>
<circle cx="168.6" cy="793.57" r="7.5" fill="white" stroke="black" stroke-width="3.4"/>
<circle cx="156.7" cy="798.82" r="7.5" fill="white" stroke="black" stroke-width="3.4"/>
<circle cx="174.5" cy="806.22" r="7.5" fill="white" stroke="black" stroke-width="3.4"/>
<circle cx="183.4" cy="811.16" r="7.5" fill="white" stroke="black" stroke-width="3.4"/>
<circle cx="159.7" cy="809" r="7.5" fill="white" stroke="black" stroke-width="3.4"/>
<circle cx="149.3" cy="818.56" r="7.5" fill="white" stroke="black" stroke-width="3.4"/>
<circle cx="152.3" cy="819.49" r="7.5" fill="white" stroke="black" stroke-width="3.4"/>
<circle cx="184.9" cy="817.33" r="7.5" fill="white" stroke="black" stroke-width="3.4"/>
<circle cx="170.8" cy="822.26" r="7.5" fill="white" stroke="black" stroke-width="3.4"/>
<circle cx="151.8" cy="828.43" r="7.5" fill="white" stroke="black" stroke-width="3.4"/>
<circle cx="181.2" cy="826.89" r="7.5" fill="white" stroke="black" stroke-width="3.4"/>
<circle cx="168.6" cy="833.68" r="7.5" fill="white" stroke="black" stroke-width="3.4"/>
<circle cx="183.4" cy="834.29" r="7.5" fill="white" stroke="black" stroke-width="3.4"/>
<circle cx="156.7" cy="838.92" r="7.5" fill="white" stroke="black" stroke-width="3.4"/>
<circle cx="177.5" cy="844.78" r="7.5" fill="white" stroke="black" stroke-width="3.4"/>
<circle cx="155.2" cy="850.03" r="7.5" fill="white" stroke="black" stroke-width="3.4"/>
<circle cx="167.1" cy="850.64" r="7.5" fill="white" stroke="black" stroke-width="3.4"/>
<circle cx="176" cy="853.73" r="7.5" fill="white" stroke="black" stroke-width="3.4"/>
<circle cx="158.9" cy="862.37" r="7.5" fill="white" stroke="black" stroke-width="3.4"/>
<circle cx="170.1" cy="866.07" r="7.5" fill="white" stroke="black" stroke-width="3.4"/>
<circle cx="175.3" cy="863.29" r="7.5" fill="white" stroke="black" stroke-width="3.4"/>
<circle cx="165.6" cy="878.1" r="7.5" fill="white" stroke="black" stroke-width="3.4"/>
<circle cx="173" cy="879.64" r="7.5" fill="white" stroke="black" stroke-width="3.4"/>
<circle cx="165.6" cy="883.96" r="7.5" fill="white" stroke="black" stroke-width="3.4"/>
<circle cx="162.7" cy="892.29" r="7.5" fill="white" stroke="black" stroke-width="3.4"/>
<circle cx="242.93" cy="871.64" r="7.5" fill="white" stroke="black" stroke-width="3.4"/>
<circle cx="237.46" cy="838.29" r="7.5" fill="white" stroke="black" stroke-width="3.4"/>
<circle cx="245.61" cy="868.02" r="7.5" fill="white" stroke="black" stroke-width="3.4"/>
<circle cx="238.32" cy="826.02" r="7.5" fill="white" stroke="black" stroke-width="3.4"/>
<circle cx="231.14" cy="847.51" r="7.5" fill="white" stroke="black" stroke-width="3.4"/>
<circle cx="234.65" cy="883.12" r="7.5" fill="white" stroke="black" stroke-width="3.4"/>
<circle cx="226.8" cy="841.81" r="7.5" fill="white" stroke="black" stroke-width="3.4"/>
<circle cx="231.04" cy="827.02" r="7.5" fill="white" stroke="black" stroke-width="3.4"/>
<circle cx="226.1" cy="866.83" r="7.5" fill="white" stroke="black" stroke-width="3.4"/>
<circle cx="244.21" cy="812.56" r="7.5" fill="white" stroke="black" stroke-width="3.4"/>
<circle cx="241.01" cy="821.26" r="7.5" fill="white" stroke="black" stroke-width="3.4"/>
<circle cx="233.55" cy="880.93" r="7.5" fill="white" stroke="black" stroke-width="3.4"/>
<circle cx="228.01" cy="848.04" r="7.5" fill="white" stroke="black" stroke-width="3.4"/>
<circle cx="234.58" cy="815.8" r="7.5" fill="white" stroke="black" stroke-width="3.4"/>
<circle cx="227.93" cy="887.72" r="7.5" fill="white" stroke="black" stroke-width="3.4"/>
<circle cx="251.96" cy="916.55" r="7.5" fill="white" stroke="black" stroke-width="3.4"/>
<circle cx="227.38" cy="911.6" r="7.5" fill="white" stroke="black" stroke-width="3.4"/>
<circle cx="233.68" cy="897.18" r="7.5" fill="white" stroke="black" stroke-width="3.4"/>
<circle cx="230.49" cy="889.84" r="7.5" fill="white" stroke="black" stroke-width="3.4"/>
<circle cx="232.94" cy="887.68" r="7.5" fill="white" stroke="black" stroke-width="3.4"/>
<circle cx="237.8" cy="786.17" r="7.5" fill="white" stroke="black" stroke-width="3.4"/>
<circle cx="235.3" cy="796.35" r="7.5" fill="white" stroke="black" stroke-width="3.4"/>
<circle cx="238.3" cy="807.76" r="7.5" fill="white" stroke="black" stroke-width="3.4"/>
<circle cx="247.2" cy="809" r="7.5" fill="white" stroke="black" stroke-width="3.4"/>
<circle cx="226.4" cy="819.49" r="7.5" fill="white" stroke="black" stroke-width="3.4"/>
<circle cx="249.4" cy="822.26" r="7.5" fill="white" stroke="black" stroke-width="3.4"/>
<circle cx="238.3" cy="829.05" r="7.5" fill="white" stroke="black" stroke-width="3.4"/>
<circle cx="233.8" cy="843.24" r="7.5" fill="white" stroke="black" stroke-width="3.4"/>
<circle cx="239.8" cy="844.78" r="7.5" fill="white" stroke="black" stroke-width="3.4"/>
<circle cx="230.8" cy="852.19" r="7.5" fill="white" stroke="black" stroke-width="3.4"/>
<circle cx="245.7" cy="851.26" r="7.5" fill="white" stroke="black" stroke-width="3.4"/>
<circle cx="236.8" cy="863.91" r="7.5" fill="white" stroke="black" stroke-width="3.4"/>
<circle cx="242.7" cy="868.54" r="7.5" fill="white" stroke="black" stroke-width="3.4"/>
<circle cx="219.7" cy="884.89" r="7.5" fill="white" stroke="black" stroke-width="3.4"/>
<circle cx="226.4" cy="883.96" r="7.5" fill="white" stroke="black" stroke-width="3.4"/>
<circle cx="256.1" cy="890.13" r="7.5" fill="white" stroke="black" stroke-width="3.4"/>
<circle cx="244.2" cy="892.91" r="7.5" fill="white" stroke="black" stroke-width="3.4"/>
<circle cx="232.3" cy="892.29" r="7.5" fill="white" stroke="black" stroke-width="3.4"/>
<circle cx="229.4" cy="899.7" r="7.5" fill="white" stroke="black" stroke-width="3.4"/>
<circle cx="239.8" cy="904.01" r="7.5" fill="white" stroke="black" stroke-width="3.4"/>
<circle cx="247.2" cy="907.72" r="7.5" fill="white" stroke="black" stroke-width="3.4"/>
<circle cx="233.8" cy="911.42" r="7.5" fill="white" stroke="black" stroke-width="3.4"/>
<circle cx="237.8" cy="924.07" r="7.5" fill="white" stroke="black" stroke-width="3.4"/>
<circle cx="311.43" cy="796.35" r="8.4" fill="black"/>
<circle cx="312.62" cy="806.22" r="8.4" fill="black"/>
<circle cx="313.15" cy="810.85" r="8.4" fill="black"/>
<circle cx="314.62" cy="815.47" r="8.4" fill="black"/>
<circle cx="312.6" cy="820.1" r="8.4" fill="black"/>
<circle cx="314.42" cy="824.73" r="8.4" fill="black"/>
<circle cx="305.49" cy="830.9" r="8.4" fill="black"/>
<circle cx="309.86" cy="835.53" r="8.4" fill="black"/>
<circle cx="314.63" cy="841.7" r="8.4" fill="black"/>
<circle cx="311.69" cy="846.32" r="8.4" fill="black"/>
<circle cx="314.21" cy="850.95" r="8.4" fill="black"/>
<circle cx="306.33" cy="858.66" r="8.4" fill="black"/>
<circle cx="309.89" cy="866.38" r="8.4" fill="black"/>
<circle cx="307.67" cy="872.55" r="8.4" fill="black"/>
<circle cx="310.64" cy="880.26" r="8.4" fill="black"/>
<circle cx="310.94" cy="884.89" r="8.4" fill="black"/>
<circle cx="305.33" cy="891.06" r="8.4" fill="black"/>
<circle cx="307.37" cy="895.68" r="8.4" fill="black"/>
<circle cx="307.99" cy="900.31" r="8.4" fill="black"/>
<circle cx="314.36" cy="906.48" r="8.4" fill="black"/>
<circle cx="312.86" cy="911.11" r="8.4" fill="black"/>
<circle cx="306.8" cy="914.19" r="8.4" fill="black"/>
<circle cx="313.17" cy="917.28" r="8.4" fill="black"/>
<circle cx="306.59" cy="920.37" r="8.4" fill="black"/>
<circle cx="311.37" cy="923.45" r="8.4" fill="black"/>
<circle cx="306.47" cy="926.53" r="8.4" fill="black"/>
<circle cx="305.22" cy="931.16" r="8.4" fill="black"/>
<circle cx="313.91" cy="935.17" r="8.4" fill="black"/>
<circle cx="307.29" cy="940.42" r="8.4" fill="black"/>
<circle cx="307.35" cy="945.04" r="8.4" fill="black"/>
<circle cx="315.02" cy="953.07" r="8.4" fill="black"/>
<circle cx="526.8" cy="842.62" r="7.6" fill="#5aa2f5" stroke="black" stroke-width="1.6"/>
<line x1="286.45" y1="941.96" x2="333.95" y2="941.96" stroke="#000" stroke-width="3.3" stroke-linecap="butt"/>
<line x1="297.95" y1="866.99" x2="322.45" y2="866.99" stroke="#000" stroke-width="1.8" stroke-linecap="butt"/>
<text x="717" y="591" font-size="63.5" font-weight="bold" text-anchor="start" fill="#000" >c</text>
<text x="1084.5" y="596.5" font-size="35.8" font-weight="bold" text-anchor="middle" fill="#000" >Fetal head</text>
<line x1="819.7" y1="644.15" x2="819.7" y2="1017.65" stroke="#000" stroke-width="3.3" stroke-linecap="butt"/>
<line x1="804.2" y1="1016" x2="819.7" y2="1016" stroke="#000" stroke-width="3.3" stroke-linecap="butt"/>
<text x="799.9" y="1027.18" font-size="31.5" font-weight="bold" text-anchor="end" fill="#000" >0</text>
<line x1="804.2" y1="954.3" x2="819.7" y2="954.3" stroke="#000" stroke-width="3.3" stroke-linecap="butt"/>
<text x="799.9" y="965.48" font-size="31.5" font-weight="bold" text-anchor="end" fill="#000" >2</text>
<line x1="804.2" y1="892.6" x2="819.7" y2="892.6" stroke="#000" stroke-width="3.3" stroke-linecap="butt"/>
<text x="799.9" y="903.78" font-size="31.5" font-weight="bold" text-anchor="end" fill="#000" >4</text>
<line x1="804.2" y1="830.9" x2="819.7" y2="830.9" stroke="#000" stroke-width="3.3" stroke-linecap="butt"/>
<text x="799.9" y="842.08" font-size="31.5" font-weight="bold" text-anchor="end" fill="#000" >6</text>
<line x1="804.2" y1="769.2" x2="819.7" y2="769.2" stroke="#000" stroke-width="3.3" stroke-linecap="butt"/>
<text x="799.9" y="780.38" font-size="31.5" font-weight="bold" text-anchor="end" fill="#000" >8</text>
<line x1="804.2" y1="707.5" x2="819.7" y2="707.5" stroke="#000" stroke-width="3.3" stroke-linecap="butt"/>
<text x="799.9" y="718.68" font-size="31.5" font-weight="bold" text-anchor="end" fill="#000" >10</text>
<line x1="804.2" y1="645.8" x2="819.7" y2="645.8" stroke="#000" stroke-width="3.3" stroke-linecap="butt"/>
<text x="799.9" y="656.98" font-size="31.5" font-weight="bold" text-anchor="end" fill="#000" >12</text>
<line x1="810.4" y1="985.15" x2="819.7" y2="985.15" stroke="#000" stroke-width="3.3" stroke-linecap="butt"/>
<line x1="810.4" y1="923.45" x2="819.7" y2="923.45" stroke="#000" stroke-width="3.3" stroke-linecap="butt"/>
<line x1="810.4" y1="861.75" x2="819.7" y2="861.75" stroke="#000" stroke-width="3.3" stroke-linecap="butt"/>
<line x1="810.4" y1="800.05" x2="819.7" y2="800.05" stroke="#000" stroke-width="3.3" stroke-linecap="butt"/>
<line x1="810.4" y1="738.35" x2="819.7" y2="738.35" stroke="#000" stroke-width="3.3" stroke-linecap="butt"/>
<line x1="810.4" y1="676.65" x2="819.7" y2="676.65" stroke="#000" stroke-width="3.3" stroke-linecap="butt"/>
<line x1="804.2" y1="1016" x2="1350.7" y2="1016" stroke="#000" stroke-width="3.3" stroke-linecap="butt"/>
<line x1="868" y1="1016" x2="868" y2="1031.3" stroke="#000" stroke-width="3.3" stroke-linecap="butt"/>
<line x1="940.2" y1="1016" x2="940.2" y2="1031.3" stroke="#000" stroke-width="3.3" stroke-linecap="butt"/>
<line x1="1012.4" y1="1016" x2="1012.4" y2="1031.3" stroke="#000" stroke-width="3.3" stroke-linecap="butt"/>
<line x1="1084.6" y1="1016" x2="1084.6" y2="1031.3" stroke="#000" stroke-width="3.3" stroke-linecap="butt"/>
<line x1="1156.8" y1="1016" x2="1156.8" y2="1031.3" stroke="#000" stroke-width="3.3" stroke-linecap="butt"/>
<line x1="1229" y1="1016" x2="1229" y2="1031.3" stroke="#000" stroke-width="3.3" stroke-linecap="butt"/>
<line x1="1301.2" y1="1016" x2="1301.2" y2="1031.3" stroke="#000" stroke-width="3.3" stroke-linecap="butt"/>
<text x="863.5" y="1066.3" font-size="33.5" font-weight="bold" text-anchor="middle" fill="#000" >6</text>
<text x="935.7" y="1066.3" font-size="33.5" font-weight="bold" text-anchor="middle" fill="#000" >2</text>
<text x="1007.9" y="1066.3" font-size="33.5" font-weight="bold" text-anchor="middle" fill="#000" >0.4</text>
<text x="1080.1" y="1066.3" font-size="33.5" font-weight="bold" text-anchor="middle" fill="#000" >1</text>
<text x="1152.3" y="1066.3" font-size="33.5" font-weight="bold" text-anchor="middle" fill="#000" >1.5</text>
<text x="1224.5" y="1066.3" font-size="33.5" font-weight="bold" text-anchor="middle" fill="#000" >2</text>
<text x="1296.7" y="1066.3" font-size="33.5" font-weight="bold" text-anchor="middle" fill="#000" >6</text>
<rect x="819.7" y="1082.5" width="153.5" height="5" fill="black"/>
<rect x="1003.2" y="1080" width="299.5" height="5" fill="black"/>
<text x="820.5" y="1123.3" font-size="34.8" font-weight="bold" text-anchor="start" fill="#000" >cIgG (mg)</text>
<text x="1088" y="1123.3" font-size="34.6" font-weight="bold" text-anchor="start" fill="#000" >vIgG (mg)</text>
<text x="867.2" y="668.5" font-size="33" font-weight="normal" text-anchor="middle" fill="#000" >17</text>
<rect x="850.2" y="672.8" width="34" height="3.4" fill="black"/>
<text x="867.2" y="707.5" font-size="33" font-weight="normal" text-anchor="middle" fill="#000" >62</text>
<text x="945.2" y="668.5" font-size="33" font-weight="normal" text-anchor="middle" fill="#000" >7</text>
<rect x="928.2" y="672.8" width="34" height="3.4" fill="black"/>
<text x="945.2" y="707.5" font-size="33" font-weight="normal" text-anchor="middle" fill="#000" >32</text>
<text x="1016" y="668.5" font-size="33" font-weight="normal" text-anchor="middle" fill="#000" >0</text>
<rect x="999" y="672.8" width="34" height="3.4" fill="black"/>
<text x="1016" y="707.5" font-size="33" font-weight="normal" text-anchor="middle" fill="#000" >75</text>
<text x="1085.4" y="668.5" font-size="33" font-weight="normal" text-anchor="middle" fill="#000" >0</text>
<rect x="1068.4" y="672.8" width="34" height="3.4" fill="black"/>
<text x="1085.4" y="707.5" font-size="33" font-weight="normal" text-anchor="middle" fill="#000" >35</text>
<text x="1156.6" y="668.5" font-size="33" font-weight="normal" text-anchor="middle" fill="#000" >0</text>
<rect x="1139.6" y="672.8" width="34" height="3.4" fill="black"/>
<text x="1156.6" y="707.5" font-size="33" font-weight="normal" text-anchor="middle" fill="#000" >25</text>
<text x="1226" y="668.5" font-size="33" font-weight="normal" text-anchor="middle" fill="#000" >0</text>
<rect x="1209" y="672.8" width="34" height="3.4" fill="black"/>
<text x="1226" y="707.5" font-size="33" font-weight="normal" text-anchor="middle" fill="#000" >92</text>
<text x="1296.7" y="668.5" font-size="33" font-weight="normal" text-anchor="middle" fill="#000" >0</text>
<rect x="1279.7" y="672.8" width="34" height="3.4" fill="black"/>
<text x="1296.7" y="707.5" font-size="33" font-weight="normal" text-anchor="middle" fill="#000" >68</text>
<line x1="819.95" y1="919.3" x2="1347.7" y2="919.3" stroke="#000" stroke-width="3.3" stroke-linecap="round" stroke-dasharray="7 11.55"/>
<line x1="868" y1="1016" x2="868" y2="910.49" stroke="#000" stroke-width="1.8" stroke-linecap="butt"/>
<line x1="856.5" y1="910.49" x2="879.5" y2="910.49" stroke="#000" stroke-width="1.8" stroke-linecap="butt"/>
<line x1="843.75" y1="977.13" x2="892.25" y2="977.13" stroke="#000" stroke-width="3.3" stroke-linecap="butt"/>
<line x1="940.2" y1="1016" x2="940.2" y2="879.33" stroke="#000" stroke-width="1.8" stroke-linecap="butt"/>
<line x1="928.45" y1="879.33" x2="951.95" y2="879.33" stroke="#000" stroke-width="1.8" stroke-linecap="butt"/>
<line x1="915.95" y1="962.63" x2="964.45" y2="962.63" stroke="#000" stroke-width="3.3" stroke-linecap="butt"/>
<circle cx="851.7" cy="1016" r="7.5" fill="white" stroke="black" stroke-width="3.4"/>
<circle cx="857.05" cy="1016" r="7.5" fill="white" stroke="black" stroke-width="3.4"/>
<circle cx="862.4" cy="1016" r="7.5" fill="white" stroke="black" stroke-width="3.4"/>
<circle cx="867.75" cy="1016" r="7.5" fill="white" stroke="black" stroke-width="3.4"/>
<circle cx="873.1" cy="1016" r="7.5" fill="white" stroke="black" stroke-width="3.4"/>
<circle cx="878.45" cy="1016" r="7.5" fill="white" stroke="black" stroke-width="3.4"/>
<circle cx="883.8" cy="1016" r="7.5" fill="white" stroke="black" stroke-width="3.4"/>
<circle cx="851.3" cy="1016" r="7.5" fill="white" stroke="black" stroke-width="3.4"/>
<circle cx="869.1" cy="1016" r="7.5" fill="white" stroke="black" stroke-width="3.4"/>
<circle cx="880.5" cy="1016" r="7.5" fill="white" stroke="black" stroke-width="3.4"/>
<circle cx="923.9" cy="1016" r="7.5" fill="white" stroke="black" stroke-width="3.4"/>
<circle cx="929.05" cy="1016" r="7.5" fill="white" stroke="black" stroke-width="3.4"/>
<circle cx="934.2" cy="1016" r="7.5" fill="white" stroke="black" stroke-width="3.4"/>
<circle cx="939.35" cy="1016" r="7.5" fill="white" stroke="black" stroke-width="3.4"/>
<circle cx="944.5" cy="1016" r="7.5" fill="white" stroke="black" stroke-width="3.4"/>
<circle cx="949.65" cy="1016" r="7.5" fill="white" stroke="black" stroke-width="3.4"/>
<circle cx="954.8" cy="1016" r="7.5" fill="white" stroke="black" stroke-width="3.4"/>
<circle cx="927.3" cy="1016" r="7.5" fill="white" stroke="black" stroke-width="3.4"/>
<circle cx="943.3" cy="1016" r="7.5" fill="white" stroke="black" stroke-width="3.4"/>
<circle cx="955.4" cy="1016" r="7.5" fill="white" stroke="black" stroke-width="3.4"/>
<circle cx="998.1" cy="1016" r="8.4" fill="black"/>
<circle cx="1001.74" cy="1016" r="8.4" fill="black"/>
<circle cx="1005.38" cy="1016" r="8.4" fill="black"/>
<circle cx="1009.01" cy="1016" r="8.4" fill="black"/>
<circle cx="1012.65" cy="1016" r="8.4" fill="black"/>
<circle cx="1016.29" cy="1016" r="8.4" fill="black"/>
<circle cx="1019.93" cy="1016" r="8.4" fill="black"/>
<circle cx="1023.56" cy="1016" r="8.4" fill="black"/>
<circle cx="1027.2" cy="1016" r="8.4" fill="black"/>
<circle cx="1069.5" cy="1016" r="7.6" fill="#1596ad" stroke="black" stroke-width="1.6"/>
<circle cx="1074.48" cy="1016" r="7.6" fill="#1596ad" stroke="black" stroke-width="1.6"/>
<circle cx="1079.47" cy="1016" r="7.6" fill="#1596ad" stroke="black" stroke-width="1.6"/>
<circle cx="1084.45" cy="1016" r="7.6" fill="#1596ad" stroke="black" stroke-width="1.6"/>
<circle cx="1089.43" cy="1016" r="7.6" fill="#1596ad" stroke="black" stroke-width="1.6"/>
<circle cx="1094.42" cy="1016" r="7.6" fill="#1596ad" stroke="black" stroke-width="1.6"/>
<circle cx="1099.4" cy="1016" r="7.6" fill="#1596ad" stroke="black" stroke-width="1.6"/>
<circle cx="1070" cy="1016" r="7.6" fill="#1596ad" stroke="black" stroke-width="1.6"/>
<circle cx="1083.9" cy="1016" r="7.6" fill="#1596ad" stroke="black" stroke-width="1.6"/>
<circle cx="1095.3" cy="1016" r="7.6" fill="#1596ad" stroke="black" stroke-width="1.6"/>
<circle cx="1141.7" cy="1016" r="7.6" fill="#00c000" stroke="black" stroke-width="1.6"/>
<circle cx="1146.68" cy="1016" r="7.6" fill="#00c000" stroke="black" stroke-width="1.6"/>
<circle cx="1151.67" cy="1016" r="7.6" fill="#00c000" stroke="black" stroke-width="1.6"/>
<circle cx="1156.65" cy="1016" r="7.6" fill="#00c000" stroke="black" stroke-width="1.6"/>
<circle cx="1161.63" cy="1016" r="7.6" fill="#00c000" stroke="black" stroke-width="1.6"/>
<circle cx="1166.62" cy="1016" r="7.6" fill="#00c000" stroke="black" stroke-width="1.6"/>
<circle cx="1171.6" cy="1016" r="7.6" fill="#00c000" stroke="black" stroke-width="1.6"/>
<circle cx="1142" cy="1016" r="7.6" fill="#00c000" stroke="black" stroke-width="1.6"/>
<circle cx="1164.5" cy="1016" r="7.6" fill="#00c000" stroke="black" stroke-width="1.6"/>
<circle cx="1213.9" cy="1016" r="7.6" fill="#5aa2f5" stroke="black" stroke-width="1.6"/>
<circle cx="1218.88" cy="1016" r="7.6" fill="#5aa2f5" stroke="black" stroke-width="1.6"/>
<circle cx="1223.87" cy="1016" r="7.6" fill="#5aa2f5" stroke="black" stroke-width="1.6"/>
<circle cx="1228.85" cy="1016" r="7.6" fill="#5aa2f5" stroke="black" stroke-width="1.6"/>
<circle cx="1233.83" cy="1016" r="7.6" fill="#5aa2f5" stroke="black" stroke-width="1.6"/>
<circle cx="1238.82" cy="1016" r="7.6" fill="#5aa2f5" stroke="black" stroke-width="1.6"/>
<circle cx="1243.8" cy="1016" r="7.6" fill="#5aa2f5" stroke="black" stroke-width="1.6"/>
<circle cx="1213" cy="1016" r="7.6" fill="#5aa2f5" stroke="black" stroke-width="1.6"/>
<circle cx="1243.5" cy="1016" r="7.6" fill="#5aa2f5" stroke="black" stroke-width="1.6"/>
<circle cx="1286.9" cy="1016" r="7.6" fill="#0000ff" stroke="white" stroke-width="1.6"/>
<circle cx="1293.23" cy="1016" r="7.6" fill="#0000ff" stroke="white" stroke-width="1.6"/>
<circle cx="1299.55" cy="1016" r="7.6" fill="#0000ff" stroke="white" stroke-width="1.6"/>
<circle cx="1305.88" cy="1016" r="7.6" fill="#0000ff" stroke="white" stroke-width="1.6"/>
<circle cx="1312.2" cy="1016" r="7.6" fill="#0000ff" stroke="white" stroke-width="1.6"/>
<circle cx="1293" cy="1016" r="7.6" fill="#0000ff" stroke="white" stroke-width="1.6"/>
<circle cx="1312" cy="1016" r="7.6" fill="#0000ff" stroke="white" stroke-width="1.6"/>
<circle cx="868" cy="761.49" r="7.5" fill="white" stroke="black" stroke-width="3.4"/>
<circle cx="868" cy="773.83" r="7.5" fill="white" stroke="black" stroke-width="3.4"/>
<circle cx="868" cy="852.5" r="7.5" fill="white" stroke="black" stroke-width="3.4"/>
<circle cx="868" cy="860.21" r="7.5" fill="white" stroke="black" stroke-width="3.4"/>
<circle cx="868" cy="866.38" r="7.5" fill="white" stroke="black" stroke-width="3.4"/>
<circle cx="868" cy="873.47" r="7.5" fill="white" stroke="black" stroke-width="3.4"/>
<circle cx="868" cy="880.26" r="7.5" fill="white" stroke="black" stroke-width="3.4"/>
<circle cx="868" cy="883.35" r="7.5" fill="white" stroke="black" stroke-width="3.4"/>
<circle cx="868" cy="895.68" r="7.5" fill="white" stroke="black" stroke-width="3.4"/>
<circle cx="868" cy="898.77" r="7.5" fill="white" stroke="black" stroke-width="3.4"/>
<circle cx="868" cy="903.4" r="7.5" fill="white" stroke="black" stroke-width="3.4"/>
<circle cx="868" cy="906.48" r="7.5" fill="white" stroke="black" stroke-width="3.4"/>
<circle cx="868" cy="909.57" r="7.5" fill="white" stroke="black" stroke-width="3.4"/>
<circle cx="868" cy="912.65" r="7.5" fill="white" stroke="black" stroke-width="3.4"/>
<circle cx="868" cy="918.82" r="7.5" fill="white" stroke="black" stroke-width="3.4"/>
<circle cx="868" cy="920.37" r="7.5" fill="white" stroke="black" stroke-width="3.4"/>
<circle cx="868" cy="921.91" r="7.5" fill="white" stroke="black" stroke-width="3.4"/>
<circle cx="939.2" cy="776.91" r="7.5" fill="white" stroke="black" stroke-width="3.4"/>
<circle cx="939.2" cy="789.25" r="7.5" fill="white" stroke="black" stroke-width="3.4"/>
<circle cx="939.2" cy="793.88" r="7.5" fill="white" stroke="black" stroke-width="3.4"/>
<circle cx="939.2" cy="796.96" r="7.5" fill="white" stroke="black" stroke-width="3.4"/>
<circle cx="939.2" cy="809.3" r="7.5" fill="white" stroke="black" stroke-width="3.4"/>
<circle cx="939.2" cy="864.83" r="7.5" fill="white" stroke="black" stroke-width="3.4"/>
<circle cx="939.2" cy="911.11" r="7.5" fill="white" stroke="black" stroke-width="3.4"/>
<circle cx="939.2" cy="924.99" r="7.5" fill="white" stroke="black" stroke-width="3.4"/>
<circle cx="939.2" cy="935.79" r="7.5" fill="white" stroke="black" stroke-width="3.4"/>
<circle cx="939.2" cy="945.04" r="7.5" fill="white" stroke="black" stroke-width="3.4"/>
<line x1="843.75" y1="977.13" x2="892.25" y2="977.13" stroke="#000" stroke-width="3.3" stroke-linecap="butt"/>
<line x1="856.5" y1="910.49" x2="879.5" y2="910.49" stroke="#000" stroke-width="1.8" stroke-linecap="butt"/>
<line x1="915.95" y1="962.63" x2="964.45" y2="962.63" stroke="#000" stroke-width="3.3" stroke-linecap="butt"/>
<line x1="928.45" y1="879.33" x2="951.95" y2="879.33" stroke="#000" stroke-width="1.8" stroke-linecap="butt"/>
<text x="1386" y="591" font-size="63.5" font-weight="bold" text-anchor="start" fill="#000" >d</text>
<text x="1735.5" y="596.5" font-size="35.8" font-weight="bold" text-anchor="middle" fill="#000" >Fetal body</text>
<line x1="1469" y1="644.15" x2="1469" y2="1017.65" stroke="#000" stroke-width="3.3" stroke-linecap="butt"/>
<line x1="1453.5" y1="1016" x2="1469" y2="1016" stroke="#000" stroke-width="3.3" stroke-linecap="butt"/>
<text x="1449.2" y="1027.18" font-size="31.5" font-weight="bold" text-anchor="end" fill="#000" >0</text>
<line x1="1453.5" y1="954.3" x2="1469" y2="954.3" stroke="#000" stroke-width="3.3" stroke-linecap="butt"/>
<text x="1449.2" y="965.48" font-size="31.5" font-weight="bold" text-anchor="end" fill="#000" >2</text>
<line x1="1453.5" y1="892.6" x2="1469" y2="892.6" stroke="#000" stroke-width="3.3" stroke-linecap="butt"/>
<text x="1449.2" y="903.78" font-size="31.5" font-weight="bold" text-anchor="end" fill="#000" >4</text>
<line x1="1453.5" y1="830.9" x2="1469" y2="830.9" stroke="#000" stroke-width="3.3" stroke-linecap="butt"/>
<text x="1449.2" y="842.08" font-size="31.5" font-weight="bold" text-anchor="end" fill="#000" >6</text>
<line x1="1453.5" y1="769.2" x2="1469" y2="769.2" stroke="#000" stroke-width="3.3" stroke-linecap="butt"/>
<text x="1449.2" y="780.38" font-size="31.5" font-weight="bold" text-anchor="end" fill="#000" >8</text>
<line x1="1453.5" y1="707.5" x2="1469" y2="707.5" stroke="#000" stroke-width="3.3" stroke-linecap="butt"/>
<text x="1449.2" y="718.68" font-size="31.5" font-weight="bold" text-anchor="end" fill="#000" >10</text>
<line x1="1453.5" y1="645.8" x2="1469" y2="645.8" stroke="#000" stroke-width="3.3" stroke-linecap="butt"/>
<text x="1449.2" y="656.98" font-size="31.5" font-weight="bold" text-anchor="end" fill="#000" >12</text>
<line x1="1459.7" y1="985.15" x2="1469" y2="985.15" stroke="#000" stroke-width="3.3" stroke-linecap="butt"/>
<line x1="1459.7" y1="923.45" x2="1469" y2="923.45" stroke="#000" stroke-width="3.3" stroke-linecap="butt"/>
<line x1="1459.7" y1="861.75" x2="1469" y2="861.75" stroke="#000" stroke-width="3.3" stroke-linecap="butt"/>
<line x1="1459.7" y1="800.05" x2="1469" y2="800.05" stroke="#000" stroke-width="3.3" stroke-linecap="butt"/>
<line x1="1459.7" y1="738.35" x2="1469" y2="738.35" stroke="#000" stroke-width="3.3" stroke-linecap="butt"/>
<line x1="1459.7" y1="676.65" x2="1469" y2="676.65" stroke="#000" stroke-width="3.3" stroke-linecap="butt"/>
<line x1="1453.5" y1="1016" x2="2000" y2="1016" stroke="#000" stroke-width="3.3" stroke-linecap="butt"/>
<line x1="1517.7" y1="1016" x2="1517.7" y2="1031.3" stroke="#000" stroke-width="3.3" stroke-linecap="butt"/>
<line x1="1589.9" y1="1016" x2="1589.9" y2="1031.3" stroke="#000" stroke-width="3.3" stroke-linecap="butt"/>
<line x1="1662.1" y1="1016" x2="1662.1" y2="1031.3" stroke="#000" stroke-width="3.3" stroke-linecap="butt"/>
<line x1="1734.3" y1="1016" x2="1734.3" y2="1031.3" stroke="#000" stroke-width="3.3" stroke-linecap="butt"/>
<line x1="1806.5" y1="1016" x2="1806.5" y2="1031.3" stroke="#000" stroke-width="3.3" stroke-linecap="butt"/>
<line x1="1878.7" y1="1016" x2="1878.7" y2="1031.3" stroke="#000" stroke-width="3.3" stroke-linecap="butt"/>
<line x1="1950.9" y1="1016" x2="1950.9" y2="1031.3" stroke="#000" stroke-width="3.3" stroke-linecap="butt"/>
<text x="1513.2" y="1066.3" font-size="33.5" font-weight="bold" text-anchor="middle" fill="#000" >6</text>
<text x="1585.4" y="1066.3" font-size="33.5" font-weight="bold" text-anchor="middle" fill="#000" >2</text>
<text x="1657.6" y="1066.3" font-size="33.5" font-weight="bold" text-anchor="middle" fill="#000" >0.4</text>
<text x="1729.8" y="1066.3" font-size="33.5" font-weight="bold" text-anchor="middle" fill="#000" >1</text>
<text x="1802" y="1066.3" font-size="33.5" font-weight="bold" text-anchor="middle" fill="#000" >1.5</text>
<text x="1874.2" y="1066.3" font-size="33.5" font-weight="bold" text-anchor="middle" fill="#000" >2</text>
<text x="1946.4" y="1066.3" font-size="33.5" font-weight="bold" text-anchor="middle" fill="#000" >6</text>
<rect x="1469" y="1082.5" width="153.5" height="5" fill="black"/>
<rect x="1652.5" y="1080" width="299.5" height="5" fill="black"/>
<text x="1470.5" y="1123.3" font-size="34.8" font-weight="bold" text-anchor="start" fill="#000" >cIgG (mg)</text>
<text x="1721" y="1123.3" font-size="34.6" font-weight="bold" text-anchor="start" fill="#000" >vIgG (mg)</text>
<text x="1514.6" y="666.5" font-size="33" font-weight="normal" text-anchor="middle" fill="#000" >17</text>
<rect x="1497.6" y="670.8" width="34" height="3.4" fill="black"/>
<text x="1514.6" y="705" font-size="33" font-weight="normal" text-anchor="middle" fill="#000" >62</text>
<text x="1591.5" y="666.5" font-size="33" font-weight="normal" text-anchor="middle" fill="#000" >7</text>
<rect x="1574.5" y="670.8" width="34" height="3.4" fill="black"/>
<text x="1591.5" y="705" font-size="33" font-weight="normal" text-anchor="middle" fill="#000" >32</text>
<text x="1662.6" y="666.5" font-size="33" font-weight="normal" text-anchor="middle" fill="#000" >0</text>
<rect x="1645.6" y="670.8" width="34" height="3.4" fill="black"/>
<text x="1662.6" y="705" font-size="33" font-weight="normal" text-anchor="middle" fill="#000" >75</text>
<text x="1733" y="666.5" font-size="33" font-weight="normal" text-anchor="middle" fill="#000" >0</text>
<rect x="1716" y="670.8" width="34" height="3.4" fill="black"/>
<text x="1733" y="705" font-size="33" font-weight="normal" text-anchor="middle" fill="#000" >35</text>
<text x="1804.4" y="666.5" font-size="33" font-weight="normal" text-anchor="middle" fill="#000" >0</text>
<rect x="1787.4" y="670.8" width="34" height="3.4" fill="black"/>
<text x="1804.4" y="705" font-size="33" font-weight="normal" text-anchor="middle" fill="#000" >25</text>
<text x="1873.6" y="666.5" font-size="33" font-weight="normal" text-anchor="middle" fill="#000" >0</text>
<rect x="1856.6" y="670.8" width="34" height="3.4" fill="black"/>
<text x="1873.6" y="705" font-size="33" font-weight="normal" text-anchor="middle" fill="#000" >92</text>
<text x="1944.2" y="666.5" font-size="33" font-weight="normal" text-anchor="middle" fill="#000" >0</text>
<rect x="1927.2" y="670.8" width="34" height="3.4" fill="black"/>
<text x="1944.2" y="705" font-size="33" font-weight="normal" text-anchor="middle" fill="#000" >68</text>
<line x1="1469.25" y1="919.3" x2="1997" y2="919.3" stroke="#000" stroke-width="3.3" stroke-linecap="round" stroke-dasharray="7 11.55"/>
<line x1="1517.7" y1="1016" x2="1517.7" y2="898.46" stroke="#000" stroke-width="1.8" stroke-linecap="butt"/>
<line x1="1505.95" y1="898.46" x2="1529.45" y2="898.46" stroke="#000" stroke-width="1.8" stroke-linecap="butt"/>
<line x1="1493.95" y1="966.64" x2="1541.45" y2="966.64" stroke="#000" stroke-width="3.3" stroke-linecap="butt"/>
<line x1="1589.9" y1="1016" x2="1589.9" y2="847.87" stroke="#000" stroke-width="1.8" stroke-linecap="butt"/>
<line x1="1578.4" y1="847.87" x2="1601.4" y2="847.87" stroke="#000" stroke-width="1.8" stroke-linecap="butt"/>
<line x1="1565.9" y1="941.03" x2="1613.9" y2="941.03" stroke="#000" stroke-width="3.3" stroke-linecap="butt"/>
<circle cx="1501.9" cy="1016" r="7.5" fill="white" stroke="black" stroke-width="3.4"/>
<circle cx="1507.07" cy="1016" r="7.5" fill="white" stroke="black" stroke-width="3.4"/>
<circle cx="1512.23" cy="1016" r="7.5" fill="white" stroke="black" stroke-width="3.4"/>
<circle cx="1517.4" cy="1016" r="7.5" fill="white" stroke="black" stroke-width="3.4"/>
<circle cx="1522.57" cy="1016" r="7.5" fill="white" stroke="black" stroke-width="3.4"/>
<circle cx="1527.73" cy="1016" r="7.5" fill="white" stroke="black" stroke-width="3.4"/>
<circle cx="1532.9" cy="1016" r="7.5" fill="white" stroke="black" stroke-width="3.4"/>
<circle cx="1502" cy="1016" r="7.5" fill="white" stroke="black" stroke-width="3.4"/>
<circle cx="1519.5" cy="1016" r="7.5" fill="white" stroke="black" stroke-width="3.4"/>
<circle cx="1531" cy="1016" r="7.5" fill="white" stroke="black" stroke-width="3.4"/>
<circle cx="1574.2" cy="1016" r="7.5" fill="white" stroke="black" stroke-width="3.4"/>
<circle cx="1579.55" cy="1016" r="7.5" fill="white" stroke="black" stroke-width="3.4"/>
<circle cx="1584.9" cy="1016" r="7.5" fill="white" stroke="black" stroke-width="3.4"/>
<circle cx="1590.25" cy="1016" r="7.5" fill="white" stroke="black" stroke-width="3.4"/>
<circle cx="1595.6" cy="1016" r="7.5" fill="white" stroke="black" stroke-width="3.4"/>
<circle cx="1600.95" cy="1016" r="7.5" fill="white" stroke="black" stroke-width="3.4"/>
<circle cx="1606.3" cy="1016" r="7.5" fill="white" stroke="black" stroke-width="3.4"/>
<circle cx="1578" cy="1016" r="7.5" fill="white" stroke="black" stroke-width="3.4"/>
<circle cx="1594" cy="1016" r="7.5" fill="white" stroke="black" stroke-width="3.4"/>
<circle cx="1606" cy="1016" r="7.5" fill="white" stroke="black" stroke-width="3.4"/>
<circle cx="1648.2" cy="1016" r="8.4" fill="black"/>
<circle cx="1651.7" cy="1016" r="8.4" fill="black"/>
<circle cx="1655.2" cy="1016" r="8.4" fill="black"/>
<circle cx="1658.7" cy="1016" r="8.4" fill="black"/>
<circle cx="1662.2" cy="1016" r="8.4" fill="black"/>
<circle cx="1665.7" cy="1016" r="8.4" fill="black"/>
<circle cx="1669.2" cy="1016" r="8.4" fill="black"/>
<circle cx="1672.7" cy="1016" r="8.4" fill="black"/>
<circle cx="1676.2" cy="1016" r="8.4" fill="black"/>
<circle cx="1719.7" cy="1016" r="7.6" fill="#1596ad" stroke="black" stroke-width="1.6"/>
<circle cx="1724.48" cy="1016" r="7.6" fill="#1596ad" stroke="black" stroke-width="1.6"/>
<circle cx="1729.27" cy="1016" r="7.6" fill="#1596ad" stroke="black" stroke-width="1.6"/>
<circle cx="1734.05" cy="1016" r="7.6" fill="#1596ad" stroke="black" stroke-width="1.6"/>
<circle cx="1738.83" cy="1016" r="7.6" fill="#1596ad" stroke="black" stroke-width="1.6"/>
<circle cx="1743.62" cy="1016" r="7.6" fill="#1596ad" stroke="black" stroke-width="1.6"/>
<circle cx="1748.4" cy="1016" r="7.6" fill="#1596ad" stroke="black" stroke-width="1.6"/>
<circle cx="1720" cy="1016" r="7.6" fill="#1596ad" stroke="black" stroke-width="1.6"/>
<circle cx="1734" cy="1016" r="7.6" fill="#1596ad" stroke="black" stroke-width="1.6"/>
<circle cx="1745.5" cy="1016" r="7.6" fill="#1596ad" stroke="black" stroke-width="1.6"/>
<circle cx="1791.9" cy="1016" r="7.6" fill="#00c000" stroke="black" stroke-width="1.6"/>
<circle cx="1796.55" cy="1016" r="7.6" fill="#00c000" stroke="black" stroke-width="1.6"/>
<circle cx="1801.2" cy="1016" r="7.6" fill="#00c000" stroke="black" stroke-width="1.6"/>
<circle cx="1805.85" cy="1016" r="7.6" fill="#00c000" stroke="black" stroke-width="1.6"/>
<circle cx="1810.5" cy="1016" r="7.6" fill="#00c000" stroke="black" stroke-width="1.6"/>
<circle cx="1815.15" cy="1016" r="7.6" fill="#00c000" stroke="black" stroke-width="1.6"/>
<circle cx="1819.8" cy="1016" r="7.6" fill="#00c000" stroke="black" stroke-width="1.6"/>
<circle cx="1792" cy="1016" r="7.6" fill="#00c000" stroke="black" stroke-width="1.6"/>
<circle cx="1815" cy="1016" r="7.6" fill="#00c000" stroke="black" stroke-width="1.6"/>
<circle cx="1864.2" cy="1016" r="7.6" fill="#5aa2f5" stroke="black" stroke-width="1.6"/>
<circle cx="1869.17" cy="1016" r="7.6" fill="#5aa2f5" stroke="black" stroke-width="1.6"/>
<circle cx="1874.13" cy="1016" r="7.6" fill="#5aa2f5" stroke="black" stroke-width="1.6"/>
<circle cx="1879.1" cy="1016" r="7.6" fill="#5aa2f5" stroke="black" stroke-width="1.6"/>
<circle cx="1884.07" cy="1016" r="7.6" fill="#5aa2f5" stroke="black" stroke-width="1.6"/>
<circle cx="1889.03" cy="1016" r="7.6" fill="#5aa2f5" stroke="black" stroke-width="1.6"/>
<circle cx="1894" cy="1016" r="7.6" fill="#5aa2f5" stroke="black" stroke-width="1.6"/>
<circle cx="1864" cy="1016" r="7.6" fill="#5aa2f5" stroke="black" stroke-width="1.6"/>
<circle cx="1893.5" cy="1016" r="7.6" fill="#5aa2f5" stroke="black" stroke-width="1.6"/>
<circle cx="1937.2" cy="1016" r="7.6" fill="#0000ff" stroke="white" stroke-width="1.6"/>
<circle cx="1943.5" cy="1016" r="7.6" fill="#0000ff" stroke="white" stroke-width="1.6"/>
<circle cx="1949.8" cy="1016" r="7.6" fill="#0000ff" stroke="white" stroke-width="1.6"/>
<circle cx="1956.1" cy="1016" r="7.6" fill="#0000ff" stroke="white" stroke-width="1.6"/>
<circle cx="1962.4" cy="1016" r="7.6" fill="#0000ff" stroke="white" stroke-width="1.6"/>
<circle cx="1943" cy="1016" r="7.6" fill="#0000ff" stroke="white" stroke-width="1.6"/>
<circle cx="1962" cy="1016" r="7.6" fill="#0000ff" stroke="white" stroke-width="1.6"/>
<circle cx="1517.7" cy="761.49" r="7.5" fill="white" stroke="black" stroke-width="3.4"/>
<circle cx="1517.7" cy="781.54" r="7.5" fill="white" stroke="black" stroke-width="3.4"/>
<circle cx="1517.7" cy="844.78" r="7.5" fill="white" stroke="black" stroke-width="3.4"/>
<circle cx="1517.7" cy="855.58" r="7.5" fill="white" stroke="black" stroke-width="3.4"/>
<circle cx="1517.7" cy="872.55" r="7.5" fill="white" stroke="black" stroke-width="3.4"/>
<circle cx="1517.7" cy="875.63" r="7.5" fill="white" stroke="black" stroke-width="3.4"/>
<circle cx="1517.7" cy="883.35" r="7.5" fill="white" stroke="black" stroke-width="3.4"/>
<circle cx="1517.7" cy="886.43" r="7.5" fill="white" stroke="black" stroke-width="3.4"/>
<circle cx="1517.7" cy="897.23" r="7.5" fill="white" stroke="black" stroke-width="3.4"/>
<circle cx="1517.7" cy="901.86" r="7.5" fill="white" stroke="black" stroke-width="3.4"/>
<circle cx="1517.7" cy="904.94" r="7.5" fill="white" stroke="black" stroke-width="3.4"/>
<circle cx="1517.7" cy="909.57" r="7.5" fill="white" stroke="black" stroke-width="3.4"/>
<circle cx="1517.7" cy="914.19" r="7.5" fill="white" stroke="black" stroke-width="3.4"/>
<circle cx="1517.7" cy="917.28" r="7.5" fill="white" stroke="black" stroke-width="3.4"/>
<circle cx="1517.7" cy="920.37" r="7.5" fill="white" stroke="black" stroke-width="3.4"/>
<circle cx="1517.7" cy="938.88" r="7.5" fill="white" stroke="black" stroke-width="3.4"/>
<circle cx="1589.9" cy="761.49" r="7.5" fill="white" stroke="black" stroke-width="3.4"/>
<circle cx="1589.9" cy="769.2" r="7.5" fill="white" stroke="black" stroke-width="3.4"/>
<circle cx="1589.9" cy="787.71" r="7.5" fill="white" stroke="black" stroke-width="3.4"/>
<circle cx="1589.9" cy="790.79" r="7.5" fill="white" stroke="black" stroke-width="3.4"/>
<circle cx="1589.9" cy="793.88" r="7.5" fill="white" stroke="black" stroke-width="3.4"/>
<circle cx="1589.9" cy="835.53" r="7.5" fill="white" stroke="black" stroke-width="3.4"/>
<circle cx="1589.9" cy="840.15" r="7.5" fill="white" stroke="black" stroke-width="3.4"/>
<circle cx="1589.9" cy="858.66" r="7.5" fill="white" stroke="black" stroke-width="3.4"/>
<circle cx="1589.9" cy="881.8" r="7.5" fill="white" stroke="black" stroke-width="3.4"/>
<circle cx="1589.9" cy="886.43" r="7.5" fill="white" stroke="black" stroke-width="3.4"/>
<circle cx="1589.9" cy="906.48" r="7.5" fill="white" stroke="black" stroke-width="3.4"/>
<circle cx="1589.9" cy="921.91" r="7.5" fill="white" stroke="black" stroke-width="3.4"/>
<circle cx="1589.9" cy="932.7" r="7.5" fill="white" stroke="black" stroke-width="3.4"/>
<circle cx="1589.9" cy="952.76" r="7.5" fill="white" stroke="black" stroke-width="3.4"/>
<line x1="1493.95" y1="966.64" x2="1541.45" y2="966.64" stroke="#000" stroke-width="3.3" stroke-linecap="butt"/>
<line x1="1505.95" y1="898.46" x2="1529.45" y2="898.46" stroke="#000" stroke-width="1.8" stroke-linecap="butt"/>
<line x1="1565.9" y1="941.03" x2="1613.9" y2="941.03" stroke="#000" stroke-width="3.3" stroke-linecap="butt"/>
<line x1="1578.4" y1="847.87" x2="1601.4" y2="847.87" stroke="#000" stroke-width="1.8" stroke-linecap="butt"/>
<text x="0" y="1262.5" font-size="63.5" font-weight="bold" text-anchor="start" fill="#000" >e</text>
<text x="348.6" y="1252.8" font-size="35.8" font-weight="bold" text-anchor="middle" fill="#000" >Human anti-ZIKV IgG</text>
<text transform="translate(69,1531) rotate(-90)" font-size="30" font-weight="bold" text-anchor="middle">Log 10 dilution (MFI &gt;200)</text>
<line x1="124.8" y1="1343" x2="124.8" y2="1719.6" stroke="#000" stroke-width="3.8" stroke-linecap="butt"/>
<line x1="108.8" y1="1717.7" x2="124.8" y2="1717.7" stroke="#000" stroke-width="3.8" stroke-linecap="butt"/>
<text x="105" y="1728.88" font-size="31.5" font-weight="bold" text-anchor="end" fill="#000" >0</text>
<line x1="108.8" y1="1624.5" x2="124.8" y2="1624.5" stroke="#000" stroke-width="3.8" stroke-linecap="butt"/>
<text x="105" y="1635.68" font-size="31.5" font-weight="bold" text-anchor="end" fill="#000" >1</text>
<line x1="108.8" y1="1531.3" x2="124.8" y2="1531.3" stroke="#000" stroke-width="3.8" stroke-linecap="butt"/>
<text x="105" y="1542.48" font-size="31.5" font-weight="bold" text-anchor="end" fill="#000" >2</text>
<line x1="108.8" y1="1438.1" x2="124.8" y2="1438.1" stroke="#000" stroke-width="3.8" stroke-linecap="butt"/>
<text x="105" y="1449.28" font-size="31.5" font-weight="bold" text-anchor="end" fill="#000" >3</text>
<line x1="108.8" y1="1344.9" x2="124.8" y2="1344.9" stroke="#000" stroke-width="3.8" stroke-linecap="butt"/>
<text x="105" y="1356.08" font-size="31.5" font-weight="bold" text-anchor="end" fill="#000" >4</text>
<line x1="108.8" y1="1717.7" x2="573" y2="1717.7" stroke="#000" stroke-width="3.8" stroke-linecap="butt"/>
<line x1="171.2" y1="1717.7" x2="171.2" y2="1733.5" stroke="#000" stroke-width="3.8" stroke-linecap="butt"/>
<line x1="241.4" y1="1717.7" x2="241.4" y2="1733.5" stroke="#000" stroke-width="3.8" stroke-linecap="butt"/>
<line x1="311.6" y1="1717.7" x2="311.6" y2="1733.5" stroke="#000" stroke-width="3.8" stroke-linecap="butt"/>
<line x1="381.8" y1="1717.7" x2="381.8" y2="1733.5" stroke="#000" stroke-width="3.8" stroke-linecap="butt"/>
<line x1="452.6" y1="1717.7" x2="452.6" y2="1733.5" stroke="#000" stroke-width="3.8" stroke-linecap="butt"/>
<line x1="522.8" y1="1717.7" x2="522.8" y2="1733.5" stroke="#000" stroke-width="3.8" stroke-linecap="butt"/>
<text x="173.7" y="1766.7" font-size="33.5" font-weight="bold" text-anchor="middle" fill="#000" >6</text>
<text x="238.6" y="1766.7" font-size="33.5" font-weight="bold" text-anchor="middle" fill="#000" >2</text>
<text x="311.4" y="1766.7" font-size="33.5" font-weight="bold" text-anchor="middle" fill="#000" >0.4</text>
<text x="381.4" y="1766.7" font-size="33.5" font-weight="bold" text-anchor="middle" fill="#000" >1</text>
<text x="456.1" y="1766.7" font-size="33.5" font-weight="bold" text-anchor="middle" fill="#000" >2</text>
<text x="522.1" y="1766.7" font-size="33.5" font-weight="bold" text-anchor="middle" fill="#000" >6</text>
<rect x="148" y="1780" width="105.3" height="5" fill="black"/>
<rect x="289.5" y="1780" width="257.2" height="5" fill="black"/>
<text x="129.5" y="1827" font-size="35" font-weight="bold" text-anchor="start" fill="#000" >cIgG (mg)</text>
<text x="358" y="1827" font-size="34.6" font-weight="bold" text-anchor="start" fill="#000" >vIgG (mg)</text>
<line x1="125.05" y1="1624.5" x2="563" y2="1624.5" stroke="#000" stroke-width="3.3" stroke-linecap="round" stroke-dasharray="7 11.55"/>
<circle cx="157.5" cy="1652.46" r="9.3" fill="white" stroke="black" stroke-width="3.3"/>
<circle cx="186" cy="1652.46" r="9.3" fill="white" stroke="black" stroke-width="3.3"/>
<circle cx="180" cy="1652.46" r="9.3" fill="white" stroke="black" stroke-width="3.3"/>
<circle cx="174" cy="1652.46" r="9.3" fill="white" stroke="black" stroke-width="3.3"/>
<circle cx="167.5" cy="1652.46" r="9.3" fill="white" stroke="black" stroke-width="3.3"/>
<circle cx="160.9" cy="1652.46" r="9.3" fill="white" stroke="black" stroke-width="3.3"/>
<circle cx="245.8" cy="1652.46" r="9.3" fill="white" stroke="black" stroke-width="3.3"/>
<circle cx="236.8" cy="1652.46" r="9.3" fill="white" stroke="black" stroke-width="3.3"/>
<circle cx="227.8" cy="1652.46" r="9.3" fill="white" stroke="black" stroke-width="3.3"/>
<circle cx="256" cy="1652.46" r="9.3" fill="white" stroke="black" stroke-width="3.3"/>
<circle cx="311.6" cy="1540.62" r="9.2" fill="black"/>
<circle cx="311.6" cy="1568.58" r="9.2" fill="black"/>
<circle cx="311.6" cy="1596.54" r="9.2" fill="black"/>
<circle cx="325" cy="1624.5" r="9.2" fill="black"/>
<circle cx="318" cy="1624.5" r="9.2" fill="black"/>
<circle cx="311" cy="1624.5" r="9.2" fill="black"/>
<circle cx="304" cy="1624.5" r="9.2" fill="black"/>
<circle cx="297.5" cy="1624.5" r="9.2" fill="black"/>
<circle cx="311.6" cy="1652.46" r="9.2" fill="black"/>
<circle cx="381.8" cy="1456.74" r="9" fill="#1596ad" stroke="black" stroke-width="1.7"/>
<circle cx="367.7" cy="1540.62" r="9" fill="#1596ad" stroke="black" stroke-width="1.7"/>
<circle cx="396.5" cy="1540.62" r="9" fill="#1596ad" stroke="black" stroke-width="1.7"/>
<circle cx="367.7" cy="1568.58" r="9" fill="#1596ad" stroke="black" stroke-width="1.7"/>
<circle cx="396.5" cy="1568.58" r="9" fill="#1596ad" stroke="black" stroke-width="1.7"/>
<circle cx="367.7" cy="1624.5" r="9" fill="#1596ad" stroke="black" stroke-width="1.7"/>
<circle cx="396.5" cy="1624.5" r="9" fill="#1596ad" stroke="black" stroke-width="1.7"/>
<circle cx="433.1" cy="1512.66" r="9" fill="#5aa2f5" stroke="black" stroke-width="1.7"/>
<circle cx="437.2" cy="1512.66" r="9" fill="#5aa2f5" stroke="black" stroke-width="1.7"/>
<circle cx="452" cy="1512.66" r="9" fill="#5aa2f5" stroke="black" stroke-width="1.7"/>
<circle cx="458.5" cy="1512.66" r="9" fill="#5aa2f5" stroke="black" stroke-width="1.7"/>
<circle cx="444.6" cy="1512.66" r="9" fill="#5aa2f5" stroke="black" stroke-width="1.7"/>
<circle cx="466.7" cy="1512.66" r="9" fill="#5aa2f5" stroke="black" stroke-width="1.7"/>
<circle cx="433.1" cy="1540.62" r="9" fill="#5aa2f5" stroke="black" stroke-width="1.7"/>
<circle cx="438" cy="1540.62" r="9" fill="#5aa2f5" stroke="black" stroke-width="1.7"/>
<circle cx="444.6" cy="1540.62" r="9" fill="#5aa2f5" stroke="black" stroke-width="1.7"/>
<circle cx="460" cy="1540.62" r="9" fill="#5aa2f5" stroke="black" stroke-width="1.7"/>
<circle cx="452" cy="1540.62" r="9" fill="#5aa2f5" stroke="black" stroke-width="1.7"/>
<circle cx="466.7" cy="1540.62" r="9" fill="#5aa2f5" stroke="black" stroke-width="1.7"/>
<circle cx="452.6" cy="1596.54" r="9" fill="#5aa2f5" stroke="black" stroke-width="1.7"/>
<circle cx="522.8" cy="1428.78" r="9.3" fill="#0000ff" stroke="white" stroke-width="1.6"/>
<circle cx="522.8" cy="1456.74" r="9.3" fill="#0000ff" stroke="white" stroke-width="1.6"/>
<circle cx="508.4" cy="1484.7" r="9.3" fill="#0000ff" stroke="white" stroke-width="1.6"/>
<circle cx="517.4" cy="1484.7" r="9.3" fill="#0000ff" stroke="white" stroke-width="1.6"/>
<circle cx="537" cy="1484.7" r="9.3" fill="#0000ff" stroke="white" stroke-width="1.6"/>
<circle cx="527.2" cy="1484.7" r="9.3" fill="#0000ff" stroke="white" stroke-width="1.6"/>
<line x1="186" y1="1347.9" x2="455.6" y2="1347.9" stroke="#000" stroke-width="3.6" stroke-linecap="butt"/>
<line x1="186" y1="1331.4" x2="186" y2="1364.4" stroke="#000" stroke-width="3.6" stroke-linecap="butt"/>
<line x1="455.6" y1="1331.4" x2="455.6" y2="1391.6" stroke="#000" stroke-width="3.6" stroke-linecap="butt"/>
<line x1="313.6" y1="1374.8" x2="455.6" y2="1374.8" stroke="#000" stroke-width="3.6" stroke-linecap="butt"/>
<line x1="313.6" y1="1358.5" x2="313.6" y2="1391.6" stroke="#000" stroke-width="3.6" stroke-linecap="butt"/>
<path d="M368,1414.5 L368,1396.3 L525.6,1396.3 L525.6,1414.5" fill="none" stroke="#000" stroke-width="3.6" stroke-linejoin="miter"/>
<line x1="185.3" y1="1490.5" x2="308" y2="1490.5" stroke="#000" stroke-width="3.6" stroke-linecap="butt"/>
<line x1="185.3" y1="1474.7" x2="185.3" y2="1507" stroke="#000" stroke-width="3.6" stroke-linecap="butt"/>
<line x1="308" y1="1474.7" x2="308" y2="1507" stroke="#000" stroke-width="3.6" stroke-linecap="butt"/>
<text x="261" y="1351.35" font-size="45" font-weight="bold" text-anchor="middle" fill="#000" >*</text>
<text x="284.5" y="1351.35" font-size="45" font-weight="bold" text-anchor="middle" fill="#000" >*</text>
<text x="308" y="1351.35" font-size="45" font-weight="bold" text-anchor="middle" fill="#000" >*</text>
<text x="368" y="1386.05" font-size="45" font-weight="bold" text-anchor="middle" fill="#000" >*</text>
<text x="391.5" y="1386.05" font-size="45" font-weight="bold" text-anchor="middle" fill="#000" >*</text>
<text x="261.3" y="1418.25" font-size="45" font-weight="bold" text-anchor="middle" fill="#000" >*</text>
<text x="219" y="1477.5" font-size="31" font-weight="bold" text-anchor="start" fill="#000" font-style="italic" >N.S.</text>
<text x="730.5" y="1261" font-size="63.5" font-weight="bold" text-anchor="start" fill="#000" >f</text>
<text x="1092" y="1256.3" font-size="35.8" font-weight="bold" text-anchor="middle" fill="#000" >Neutralizing antibody</text>
<text transform="translate(768,1531.6) rotate(-90)" font-size="30" font-weight="bold" text-anchor="middle">Log10 MN<tspan font-size="20" dy="7">50</tspan><tspan dy="-7"> titer</tspan></text>
<line x1="827.1" y1="1345.9" x2="827.1" y2="1720.9" stroke="#000" stroke-width="3.8" stroke-linecap="butt"/>
<line x1="811.1" y1="1719" x2="827.1" y2="1719" stroke="#000" stroke-width="3.8" stroke-linecap="butt"/>
<text x="807.3" y="1730.18" font-size="31.5" font-weight="bold" text-anchor="end" fill="#000" >0</text>
<line x1="811.1" y1="1626.2" x2="827.1" y2="1626.2" stroke="#000" stroke-width="3.8" stroke-linecap="butt"/>
<text x="807.3" y="1637.38" font-size="31.5" font-weight="bold" text-anchor="end" fill="#000" >1</text>
<line x1="811.1" y1="1533.4" x2="827.1" y2="1533.4" stroke="#000" stroke-width="3.8" stroke-linecap="butt"/>
<text x="807.3" y="1544.58" font-size="31.5" font-weight="bold" text-anchor="end" fill="#000" >2</text>
<line x1="811.1" y1="1440.6" x2="827.1" y2="1440.6" stroke="#000" stroke-width="3.8" stroke-linecap="butt"/>
<text x="807.3" y="1451.78" font-size="31.5" font-weight="bold" text-anchor="end" fill="#000" >3</text>
<line x1="811.1" y1="1347.8" x2="827.1" y2="1347.8" stroke="#000" stroke-width="3.8" stroke-linecap="butt"/>
<text x="807.3" y="1358.98" font-size="31.5" font-weight="bold" text-anchor="end" fill="#000" >4</text>
<line x1="811" y1="1719" x2="1359" y2="1719" stroke="#000" stroke-width="3.8" stroke-linecap="butt"/>
<line x1="875.2" y1="1719" x2="875.2" y2="1734.8" stroke="#000" stroke-width="3.8" stroke-linecap="butt"/>
<line x1="947.6" y1="1719" x2="947.6" y2="1734.8" stroke="#000" stroke-width="3.8" stroke-linecap="butt"/>
<line x1="1020" y1="1719" x2="1020" y2="1734.8" stroke="#000" stroke-width="3.8" stroke-linecap="butt"/>
<line x1="1092" y1="1719" x2="1092" y2="1734.8" stroke="#000" stroke-width="3.8" stroke-linecap="butt"/>
<line x1="1164.6" y1="1719" x2="1164.6" y2="1734.8" stroke="#000" stroke-width="3.8" stroke-linecap="butt"/>
<line x1="1237" y1="1719" x2="1237" y2="1734.8" stroke="#000" stroke-width="3.8" stroke-linecap="butt"/>
<line x1="1309" y1="1719" x2="1309" y2="1734.8" stroke="#000" stroke-width="3.8" stroke-linecap="butt"/>
<text x="871" y="1769" font-size="33.5" font-weight="bold" text-anchor="middle" fill="#000" >6</text>
<text x="942.8" y="1769" font-size="33.5" font-weight="bold" text-anchor="middle" fill="#000" >2</text>
<text x="1015.2" y="1769" font-size="33.5" font-weight="bold" text-anchor="middle" fill="#000" >0.4</text>
<text x="1092" y="1769" font-size="33.5" font-weight="bold" text-anchor="middle" fill="#000" >1</text>
<text x="1161" y="1769" font-size="33.5" font-weight="bold" text-anchor="middle" fill="#000" >1.5</text>
<text x="1232" y="1769" font-size="33.5" font-weight="bold" text-anchor="middle" fill="#000" >2</text>
<text x="1304.8" y="1769" font-size="33.5" font-weight="bold" text-anchor="middle" fill="#000" >6</text>
<rect x="827" y="1788.2" width="154.6" height="5" fill="black"/>
<rect x="1012" y="1788.2" width="326.6" height="5" fill="black"/>
<text x="826.7" y="1837.5" font-size="35" font-weight="bold" text-anchor="start" fill="#000" >cIgG (mg)</text>
<text x="1103" y="1837.5" font-size="34.6" font-weight="bold" text-anchor="start" fill="#000" >vIgG (mg)</text>
<line x1="827.35" y1="1654.04" x2="1355" y2="1654.04" stroke="#000" stroke-width="3.3" stroke-linecap="round" stroke-dasharray="7 11.55"/>
<line x1="875.2" y1="1497.21" x2="875.2" y2="1433.18" stroke="#000" stroke-width="1.6" stroke-linecap="butt"/>
<line x1="863.2" y1="1433.18" x2="887.2" y2="1433.18" stroke="#000" stroke-width="1.6" stroke-linecap="butt"/>
<line x1="863.2" y1="1497.21" x2="887.2" y2="1497.21" stroke="#000" stroke-width="1.6" stroke-linecap="butt"/>
<line x1="851.2" y1="1465.19" x2="899.2" y2="1465.19" stroke="#000" stroke-width="3.3" stroke-linecap="butt"/>
<line x1="947.6" y1="1518.55" x2="947.6" y2="1435.03" stroke="#000" stroke-width="1.6" stroke-linecap="butt"/>
<line x1="935.6" y1="1435.03" x2="959.6" y2="1435.03" stroke="#000" stroke-width="1.6" stroke-linecap="butt"/>
<line x1="935.6" y1="1518.55" x2="959.6" y2="1518.55" stroke="#000" stroke-width="1.6" stroke-linecap="butt"/>
<line x1="923.6" y1="1476.79" x2="971.6" y2="1476.79" stroke="#000" stroke-width="3.3" stroke-linecap="butt"/>
<line x1="1020" y1="1612.84" x2="1020" y2="1561.24" stroke="#000" stroke-width="1.6" stroke-linecap="butt"/>
<line x1="1008" y1="1561.24" x2="1032" y2="1561.24" stroke="#000" stroke-width="1.6" stroke-linecap="butt"/>
<line x1="1008" y1="1612.84" x2="1032" y2="1612.84" stroke="#000" stroke-width="1.6" stroke-linecap="butt"/>
<line x1="996" y1="1587.22" x2="1044" y2="1587.22" stroke="#000" stroke-width="3.3" stroke-linecap="butt"/>
<line x1="1092" y1="1646.62" x2="1092" y2="1591.86" stroke="#000" stroke-width="1.6" stroke-linecap="butt"/>
<line x1="1080" y1="1591.86" x2="1104" y2="1591.86" stroke="#000" stroke-width="1.6" stroke-linecap="butt"/>
<line x1="1080" y1="1646.62" x2="1104" y2="1646.62" stroke="#000" stroke-width="1.6" stroke-linecap="butt"/>
<line x1="1068" y1="1618.78" x2="1116" y2="1618.78" stroke="#000" stroke-width="3.3" stroke-linecap="butt"/>
<line x1="1164.6" y1="1649.86" x2="1164.6" y2="1591.86" stroke="#000" stroke-width="1.6" stroke-linecap="butt"/>
<line x1="1152.6" y1="1591.86" x2="1176.6" y2="1591.86" stroke="#000" stroke-width="1.6" stroke-linecap="butt"/>
<line x1="1152.6" y1="1649.86" x2="1176.6" y2="1649.86" stroke="#000" stroke-width="1.6" stroke-linecap="butt"/>
<line x1="1140.6" y1="1621" x2="1188.6" y2="1621" stroke="#000" stroke-width="3.3" stroke-linecap="butt"/>
<circle cx="875.4" cy="1411.83" r="9.3" fill="white" stroke="black" stroke-width="3.3"/>
<circle cx="870.5" cy="1435.96" r="9.3" fill="white" stroke="black" stroke-width="3.3"/>
<circle cx="859.9" cy="1452.66" r="9.3" fill="white" stroke="black" stroke-width="3.3"/>
<circle cx="890.2" cy="1458.23" r="9.3" fill="white" stroke="black" stroke-width="3.3"/>
<circle cx="879.9" cy="1468.44" r="9.3" fill="white" stroke="black" stroke-width="3.3"/>
<circle cx="870.5" cy="1463.8" r="9.3" fill="white" stroke="black" stroke-width="3.3"/>
<circle cx="875.4" cy="1484.22" r="9.3" fill="white" stroke="black" stroke-width="3.3"/>
<circle cx="870.2" cy="1513.91" r="9.3" fill="white" stroke="black" stroke-width="3.3"/>
<circle cx="880.5" cy="1505.56" r="9.3" fill="white" stroke="black" stroke-width="3.3"/>
<circle cx="962.9" cy="1444.31" r="9.3" fill="white" stroke="black" stroke-width="3.3"/>
<circle cx="932.6" cy="1460.09" r="9.3" fill="white" stroke="black" stroke-width="3.3"/>
<circle cx="962.9" cy="1463.8" r="9.3" fill="white" stroke="black" stroke-width="3.3"/>
<circle cx="947.4" cy="1538.97" r="9.3" fill="white" stroke="black" stroke-width="3.3"/>
<circle cx="1005.2" cy="1547.41" r="9.2" fill="black"/>
<circle cx="1015.1" cy="1559.94" r="9.2" fill="black"/>
<circle cx="1025.3" cy="1559.94" r="9.2" fill="black"/>
<circle cx="1025.1" cy="1584.44" r="9.2" fill="black"/>
<circle cx="1015.4" cy="1598.36" r="9.2" fill="black"/>
<circle cx="1005.2" cy="1600.22" r="9.2" fill="black"/>
<circle cx="1035.3" cy="1598.36" r="9.2" fill="black"/>
<circle cx="1025.3" cy="1615.06" r="9.2" fill="black"/>
<circle cx="1015.1" cy="1622.02" r="9.2" fill="black"/>
<circle cx="1077" cy="1589.54" r="9" fill="#1596ad" stroke="black" stroke-width="1.7"/>
<circle cx="1107.3" cy="1589.54" r="9" fill="#1596ad" stroke="black" stroke-width="1.7"/>
<circle cx="1092.6" cy="1604.86" r="9" fill="#1596ad" stroke="black" stroke-width="1.7"/>
<circle cx="1077" cy="1618.78" r="9" fill="#1596ad" stroke="black" stroke-width="1.7"/>
<circle cx="1107.3" cy="1618.78" r="9" fill="#1596ad" stroke="black" stroke-width="1.7"/>
<circle cx="1084.7" cy="1654.04" r="9" fill="#1596ad" stroke="black" stroke-width="1.7"/>
<circle cx="1099.5" cy="1654.04" r="9" fill="#1596ad" stroke="black" stroke-width="1.7"/>
<circle cx="1149.9" cy="1598.36" r="9" fill="#00c000" stroke="black" stroke-width="1.7"/>
<circle cx="1179.7" cy="1609.96" r="9" fill="#00c000" stroke="black" stroke-width="1.7"/>
<circle cx="1164.6" cy="1654.04" r="9" fill="#00c000" stroke="black" stroke-width="1.7"/>
<circle cx="1236.7" cy="1601.14" r="9" fill="#5aa2f5" stroke="black" stroke-width="1.7"/>
<circle cx="1245.7" cy="1607.64" r="9" fill="#5aa2f5" stroke="black" stroke-width="1.7"/>
<circle cx="1252.2" cy="1609.96" r="9" fill="#5aa2f5" stroke="black" stroke-width="1.7"/>
<circle cx="1224.4" cy="1604.86" r="9" fill="#5aa2f5" stroke="black" stroke-width="1.7"/>
<circle cx="1221.1" cy="1613.21" r="9" fill="#5aa2f5" stroke="black" stroke-width="1.7"/>
<circle cx="1245.7" cy="1612.28" r="9" fill="#5aa2f5" stroke="black" stroke-width="1.7"/>
<circle cx="1233.4" cy="1615.99" r="9" fill="#5aa2f5" stroke="black" stroke-width="1.7"/>
<circle cx="1309.5" cy="1594.65" r="9.3" fill="#0000ff" stroke="white" stroke-width="1.6"/>
<circle cx="1293.2" cy="1612.28" r="9.3" fill="#0000ff" stroke="white" stroke-width="1.6"/>
<circle cx="1324.3" cy="1612.28" r="9.3" fill="#0000ff" stroke="white" stroke-width="1.6"/>
<circle cx="1309.5" cy="1621.56" r="9.3" fill="#0000ff" stroke="white" stroke-width="1.6"/>
<circle cx="1301.3" cy="1607.64" r="9.3" fill="#0000ff" stroke="white" stroke-width="1.6"/>
<circle cx="1309.5" cy="1609.96" r="9.3" fill="#0000ff" stroke="white" stroke-width="1.6"/>
<circle cx="1309.5" cy="1654.04" r="9.3" fill="#0000ff" stroke="white" stroke-width="1.6"/>
<line x1="925.2" y1="1343.6" x2="1218.5" y2="1343.6" stroke="#000" stroke-width="5.2" stroke-linecap="butt"/>
<line x1="925.2" y1="1327.1" x2="925.2" y2="1360.1" stroke="#000" stroke-width="5.2" stroke-linecap="butt"/>
<line x1="1218.5" y1="1327.1" x2="1218.5" y2="1360.1" stroke="#000" stroke-width="5.2" stroke-linecap="butt"/>
<path d="M877.6,1393.9 L877.6,1375.8 L948,1375.8 L948,1393.9" fill="none" stroke="#000" stroke-width="5.2" stroke-linejoin="miter"/>
<path d="M1027.6,1393 L1027.6,1373 L1313,1373 L1313,1393" fill="none" stroke="#000" stroke-width="5.2" stroke-linejoin="miter"/>
<line x1="1027.6" y1="1479.2" x2="1222" y2="1479.2" stroke="#000" stroke-width="5.2" stroke-linecap="butt"/>
<line x1="1027.6" y1="1462.6" x2="1027.6" y2="1495.6" stroke="#000" stroke-width="5.2" stroke-linecap="butt"/>
<line x1="1222" y1="1462.6" x2="1222" y2="1495.6" stroke="#000" stroke-width="5.2" stroke-linecap="butt"/>
<path d="M1095,1524.5 L1095,1506.6 L1310,1506.6 L1310,1524.5" fill="none" stroke="#000" stroke-width="5.2" stroke-linejoin="miter"/>
<text x="1038.6" y="1341.15" font-size="45" font-weight="bold" text-anchor="middle" fill="#000" >*</text>
<text x="1060.6" y="1341.15" font-size="45" font-weight="bold" text-anchor="middle" fill="#000" >*</text>
<text x="1082.6" y="1341.15" font-size="45" font-weight="bold" text-anchor="middle" fill="#000" >*</text>
<text x="1104.6" y="1341.15" font-size="45" font-weight="bold" text-anchor="middle" fill="#000" >*</text>
<text x="1125.2" y="1476.65" font-size="45" font-weight="bold" text-anchor="middle" fill="#000" >*</text>
<text x="0" y="1981" font-size="63.5" font-weight="bold" text-anchor="start" fill="#000" >g</text>
<text x="346.8" y="1979.8" font-size="35.8" font-weight="bold" text-anchor="middle" fill="#000" >Mouse anti-ZIKV IgM</text>
<text transform="translate(70.8,2212.5) rotate(-90)" font-size="30" font-weight="bold" text-anchor="middle">Log 10 dilution (MFI &gt;110)</text>
<line x1="125.6" y1="2027.1" x2="125.6" y2="2400.3" stroke="#000" stroke-width="3.8" stroke-linecap="butt"/>
<line x1="109.6" y1="2398.4" x2="125.6" y2="2398.4" stroke="#000" stroke-width="3.8" stroke-linecap="butt"/>
<text x="105.8" y="2409.58" font-size="31.5" font-weight="bold" text-anchor="end" fill="#000" >0</text>
<line x1="109.6" y1="2306.05" x2="125.6" y2="2306.05" stroke="#000" stroke-width="3.8" stroke-linecap="butt"/>
<text x="105.8" y="2317.23" font-size="31.5" font-weight="bold" text-anchor="end" fill="#000" >1</text>
<line x1="109.6" y1="2213.7" x2="125.6" y2="2213.7" stroke="#000" stroke-width="3.8" stroke-linecap="butt"/>
<text x="105.8" y="2224.88" font-size="31.5" font-weight="bold" text-anchor="end" fill="#000" >2</text>
<line x1="109.6" y1="2121.35" x2="125.6" y2="2121.35" stroke="#000" stroke-width="3.8" stroke-linecap="butt"/>
<text x="105.8" y="2132.53" font-size="31.5" font-weight="bold" text-anchor="end" fill="#000" >3</text>
<line x1="109.6" y1="2029" x2="125.6" y2="2029" stroke="#000" stroke-width="3.8" stroke-linecap="butt"/>
<text x="105.8" y="2040.18" font-size="31.5" font-weight="bold" text-anchor="end" fill="#000" >4</text>
<line x1="110.5" y1="2398.4" x2="568.4" y2="2398.4" stroke="#000" stroke-width="3.8" stroke-linecap="butt"/>
<line x1="171.2" y1="2398.4" x2="171.2" y2="2414.2" stroke="#000" stroke-width="3.8" stroke-linecap="butt"/>
<line x1="240.7" y1="2398.4" x2="240.7" y2="2414.2" stroke="#000" stroke-width="3.8" stroke-linecap="butt"/>
<line x1="310.5" y1="2398.4" x2="310.5" y2="2414.2" stroke="#000" stroke-width="3.8" stroke-linecap="butt"/>
<line x1="380" y1="2398.4" x2="380" y2="2414.2" stroke="#000" stroke-width="3.8" stroke-linecap="butt"/>
<line x1="449.8" y1="2398.4" x2="449.8" y2="2414.2" stroke="#000" stroke-width="3.8" stroke-linecap="butt"/>
<line x1="519.3" y1="2398.4" x2="519.3" y2="2414.2" stroke="#000" stroke-width="3.8" stroke-linecap="butt"/>
<text x="172.6" y="2444.6" font-size="33.5" font-weight="bold" text-anchor="middle" fill="#000" >6</text>
<text x="243.9" y="2444.6" font-size="33.5" font-weight="bold" text-anchor="middle" fill="#000" >2</text>
<text x="309.5" y="2444.6" font-size="33.5" font-weight="bold" text-anchor="middle" fill="#000" >0.4</text>
<text x="385" y="2444.6" font-size="33.5" font-weight="bold" text-anchor="middle" fill="#000" >1</text>
<text x="456.8" y="2444.6" font-size="33.5" font-weight="bold" text-anchor="middle" fill="#000" >2</text>
<text x="537.5" y="2444.6" font-size="33.5" font-weight="bold" text-anchor="middle" fill="#000" >6</text>
<rect x="148" y="2466.5" width="105.3" height="5" fill="black"/>
<rect x="288.4" y="2466.5" width="255.5" height="5" fill="black"/>
<text x="137.6" y="2514" font-size="35" font-weight="bold" text-anchor="start" fill="#000" >cIgG (mg)</text>
<text x="357.2" y="2514" font-size="34.6" font-weight="bold" text-anchor="start" fill="#000" >vIgG (mg)</text>
<line x1="125.85" y1="2306.05" x2="559.6" y2="2306.05" stroke="#000" stroke-width="3.3" stroke-linecap="round" stroke-dasharray="7 11.55"/>
<circle cx="171.2" cy="2195.23" r="9.3" fill="white" stroke="black" stroke-width="3.3"/>
<circle cx="186" cy="2278.35" r="9.3" fill="white" stroke="black" stroke-width="3.3"/>
<circle cx="178.9" cy="2278.35" r="9.3" fill="white" stroke="black" stroke-width="3.3"/>
<circle cx="154.4" cy="2278.35" r="9.3" fill="white" stroke="black" stroke-width="3.3"/>
<circle cx="161.4" cy="2278.35" r="9.3" fill="white" stroke="black" stroke-width="3.3"/>
<circle cx="171.2" cy="2278.35" r="9.3" fill="white" stroke="black" stroke-width="3.3"/>
<circle cx="175.4" cy="2306.05" r="9.3" fill="white" stroke="black" stroke-width="3.3"/>
<circle cx="168.4" cy="2306.05" r="9.3" fill="white" stroke="black" stroke-width="3.3"/>
<circle cx="240.7" cy="2195.23" r="9.3" fill="white" stroke="black" stroke-width="3.3"/>
<circle cx="255.4" cy="2306.05" r="9.3" fill="white" stroke="black" stroke-width="3.3"/>
<circle cx="241.4" cy="2306.05" r="9.3" fill="white" stroke="black" stroke-width="3.3"/>
<circle cx="228" cy="2306.05" r="9.3" fill="white" stroke="black" stroke-width="3.3"/>
<circle cx="303.5" cy="2278.35" r="9.2" fill="black"/>
<circle cx="315.8" cy="2278.35" r="9.2" fill="black"/>
<circle cx="322.8" cy="2306.05" r="9.2" fill="black"/>
<circle cx="314" cy="2306.05" r="9.2" fill="black"/>
<circle cx="305.3" cy="2306.05" r="9.2" fill="black"/>
<circle cx="296.5" cy="2306.05" r="9.2" fill="black"/>
<circle cx="319.3" cy="2333.76" r="9.2" fill="black"/>
<circle cx="308.8" cy="2333.76" r="9.2" fill="black"/>
<circle cx="300" cy="2333.76" r="9.2" fill="black"/>
<circle cx="380" cy="2250.64" r="9" fill="#1596ad" stroke="black" stroke-width="1.7"/>
<circle cx="394.7" cy="2306.05" r="9" fill="#1596ad" stroke="black" stroke-width="1.7"/>
<circle cx="364.9" cy="2306.05" r="9" fill="#1596ad" stroke="black" stroke-width="1.7"/>
<circle cx="375.4" cy="2306.05" r="9" fill="#1596ad" stroke="black" stroke-width="1.7"/>
<circle cx="375.4" cy="2333.76" r="9" fill="#1596ad" stroke="black" stroke-width="1.7"/>
<circle cx="384.2" cy="2333.76" r="9" fill="#1596ad" stroke="black" stroke-width="1.7"/>
<circle cx="464.9" cy="2306.05" r="9" fill="#5aa2f5" stroke="black" stroke-width="1.7"/>
<circle cx="459.6" cy="2306.05" r="9" fill="#5aa2f5" stroke="black" stroke-width="1.7"/>
<circle cx="435" cy="2306.05" r="9" fill="#5aa2f5" stroke="black" stroke-width="1.7"/>
<circle cx="442" cy="2306.05" r="9" fill="#5aa2f5" stroke="black" stroke-width="1.7"/>
<circle cx="450.9" cy="2306.05" r="9" fill="#5aa2f5" stroke="black" stroke-width="1.7"/>
<circle cx="464.9" cy="2333.76" r="9" fill="#5aa2f5" stroke="black" stroke-width="1.7"/>
<circle cx="459.6" cy="2333.76" r="9" fill="#5aa2f5" stroke="black" stroke-width="1.7"/>
<circle cx="435" cy="2333.76" r="9" fill="#5aa2f5" stroke="black" stroke-width="1.7"/>
<circle cx="442" cy="2333.76" r="9" fill="#5aa2f5" stroke="black" stroke-width="1.7"/>
<circle cx="450.9" cy="2333.76" r="9" fill="#5aa2f5" stroke="black" stroke-width="1.7"/>
<circle cx="522.8" cy="2278.35" r="9.3" fill="#0000ff" stroke="white" stroke-width="1.6"/>
<circle cx="515.8" cy="2278.35" r="9.3" fill="#0000ff" stroke="white" stroke-width="1.6"/>
<circle cx="533.3" cy="2306.05" r="9.3" fill="#0000ff" stroke="white" stroke-width="1.6"/>
<circle cx="505.3" cy="2306.05" r="9.3" fill="#0000ff" stroke="white" stroke-width="1.6"/>
<circle cx="515.8" cy="2306.05" r="9.3" fill="#0000ff" stroke="white" stroke-width="1.6"/>
<circle cx="526.3" cy="2306.05" r="9.3" fill="#0000ff" stroke="white" stroke-width="1.6"/>
<circle cx="519.3" cy="2333.76" r="9.3" fill="#0000ff" stroke="white" stroke-width="1.6"/>
<line x1="206.3" y1="2086.7" x2="435.8" y2="2086.7" stroke="#000" stroke-width="5.2" stroke-linecap="butt"/>
<line x1="206.3" y1="2070.9" x2="206.3" y2="2102.5" stroke="#000" stroke-width="5.2" stroke-linecap="butt"/>
<line x1="435.8" y1="2070.9" x2="435.8" y2="2102.5" stroke="#000" stroke-width="5.2" stroke-linecap="butt"/>
<path d="M171.2,2138 L171.2,2121 L237.2,2121 L237.2,2138" fill="none" stroke="#000" stroke-width="5.2" stroke-linejoin="miter"/>
<path d="M308.8,2141 L308.8,2121.8 L521.8,2121.8 L521.8,2141" fill="none" stroke="#000" stroke-width="5.2" stroke-linejoin="miter"/>
<text x="311.7" y="2089.25" font-size="45" font-weight="bold" text-anchor="middle" fill="#000" >*</text>
<text x="333.7" y="2089.25" font-size="45" font-weight="bold" text-anchor="middle" fill="#000" >*</text>
<text x="714" y="1982.5" font-size="63.5" font-weight="bold" text-anchor="start" fill="#000" >h</text>
<text x="1051.2" y="1979.8" font-size="35.8" font-weight="bold" text-anchor="middle" fill="#000" >Mouse anti-ZIKV IgG</text>
<text transform="translate(774.4,2214) rotate(-90)" font-size="30" font-weight="bold" text-anchor="middle">Log 10 dilution (MFI &gt;120)</text>
<line x1="829.1" y1="2027.8" x2="829.1" y2="2400.8" stroke="#000" stroke-width="3.8" stroke-linecap="butt"/>
<line x1="813.1" y1="2398.9" x2="829.1" y2="2398.9" stroke="#000" stroke-width="3.8" stroke-linecap="butt"/>
<text x="809.3" y="2410.08" font-size="31.5" font-weight="bold" text-anchor="end" fill="#000" >0</text>
<line x1="813.1" y1="2306.6" x2="829.1" y2="2306.6" stroke="#000" stroke-width="3.8" stroke-linecap="butt"/>
<text x="809.3" y="2317.78" font-size="31.5" font-weight="bold" text-anchor="end" fill="#000" >1</text>
<line x1="813.1" y1="2214.3" x2="829.1" y2="2214.3" stroke="#000" stroke-width="3.8" stroke-linecap="butt"/>
<text x="809.3" y="2225.48" font-size="31.5" font-weight="bold" text-anchor="end" fill="#000" >2</text>
<line x1="813.1" y1="2122" x2="829.1" y2="2122" stroke="#000" stroke-width="3.8" stroke-linecap="butt"/>
<text x="809.3" y="2133.18" font-size="31.5" font-weight="bold" text-anchor="end" fill="#000" >3</text>
<line x1="813.1" y1="2029.7" x2="829.1" y2="2029.7" stroke="#000" stroke-width="3.8" stroke-linecap="butt"/>
<text x="809.3" y="2040.88" font-size="31.5" font-weight="bold" text-anchor="end" fill="#000" >4</text>
<line x1="814" y1="2398.9" x2="1272.6" y2="2398.9" stroke="#000" stroke-width="3.8" stroke-linecap="butt"/>
<line x1="874.7" y1="2398.9" x2="874.7" y2="2414.7" stroke="#000" stroke-width="3.8" stroke-linecap="butt"/>
<line x1="944.6" y1="2398.9" x2="944.6" y2="2414.7" stroke="#000" stroke-width="3.8" stroke-linecap="butt"/>
<line x1="1014.7" y1="2398.9" x2="1014.7" y2="2414.7" stroke="#000" stroke-width="3.8" stroke-linecap="butt"/>
<line x1="1084.2" y1="2398.9" x2="1084.2" y2="2414.7" stroke="#000" stroke-width="3.8" stroke-linecap="butt"/>
<line x1="1153.7" y1="2398.9" x2="1153.7" y2="2414.7" stroke="#000" stroke-width="3.8" stroke-linecap="butt"/>
<line x1="1223.5" y1="2398.9" x2="1223.5" y2="2414.7" stroke="#000" stroke-width="3.8" stroke-linecap="butt"/>
<text x="878" y="2446" font-size="33.5" font-weight="bold" text-anchor="middle" fill="#000" >6</text>
<text x="942" y="2446" font-size="33.5" font-weight="bold" text-anchor="middle" fill="#000" >2</text>
<text x="1005.8" y="2446" font-size="33.5" font-weight="bold" text-anchor="middle" fill="#000" >0.4</text>
<text x="1083" y="2446" font-size="33.5" font-weight="bold" text-anchor="middle" fill="#000" >1</text>
<text x="1158" y="2446" font-size="33.5" font-weight="bold" text-anchor="middle" fill="#000" >2</text>
<text x="1232" y="2446" font-size="33.5" font-weight="bold" text-anchor="middle" fill="#000" >6</text>
<rect x="851.6" y="2460.5" width="105.2" height="5" fill="black"/>
<rect x="993" y="2460.5" width="254.4" height="5" fill="black"/>
<text x="828" y="2510.5" font-size="35" font-weight="bold" text-anchor="start" fill="#000" >cIgG (mg)</text>
<text x="1059.6" y="2510.5" font-size="34.6" font-weight="bold" text-anchor="start" fill="#000" >vIgG (mg)</text>
<line x1="829.35" y1="2306.6" x2="1263" y2="2306.6" stroke="#000" stroke-width="3.3" stroke-linecap="round" stroke-dasharray="7 11.55"/>
<circle cx="859.6" cy="2195.84" r="9.3" fill="white" stroke="black" stroke-width="3.3"/>
<circle cx="869" cy="2195.84" r="9.3" fill="white" stroke="black" stroke-width="3.3"/>
<circle cx="875.4" cy="2195.84" r="9.3" fill="white" stroke="black" stroke-width="3.3"/>
<circle cx="881" cy="2195.84" r="9.3" fill="white" stroke="black" stroke-width="3.3"/>
<circle cx="889.5" cy="2195.84" r="9.3" fill="white" stroke="black" stroke-width="3.3"/>
<circle cx="871.2" cy="2223.53" r="9.3" fill="white" stroke="black" stroke-width="3.3"/>
<circle cx="877.2" cy="2223.53" r="9.3" fill="white" stroke="black" stroke-width="3.3"/>
<circle cx="872" cy="2278.91" r="9.3" fill="white" stroke="black" stroke-width="3.3"/>
<circle cx="863.9" cy="2278.91" r="9.3" fill="white" stroke="black" stroke-width="3.3"/>
<circle cx="885.3" cy="2278.91" r="9.3" fill="white" stroke="black" stroke-width="3.3"/>
<circle cx="875.4" cy="2306.6" r="9.3" fill="white" stroke="black" stroke-width="3.3"/>
<circle cx="867.7" cy="2306.6" r="9.3" fill="white" stroke="black" stroke-width="3.3"/>
<circle cx="882.7" cy="2306.6" r="9.3" fill="white" stroke="black" stroke-width="3.3"/>
<circle cx="933.3" cy="2278.91" r="9.3" fill="white" stroke="black" stroke-width="3.3"/>
<circle cx="945.6" cy="2278.91" r="9.3" fill="white" stroke="black" stroke-width="3.3"/>
<circle cx="959" cy="2278.91" r="9.3" fill="white" stroke="black" stroke-width="3.3"/>
<circle cx="944.6" cy="2306.6" r="9.3" fill="white" stroke="black" stroke-width="3.3"/>
<circle cx="1014.7" cy="2251.22" r="9.2" fill="black"/>
<circle cx="1028" cy="2306.6" r="9.2" fill="black"/>
<circle cx="1019.3" cy="2306.6" r="9.2" fill="black"/>
<circle cx="1010.5" cy="2306.6" r="9.2" fill="black"/>
<circle cx="1001.8" cy="2306.6" r="9.2" fill="black"/>
<circle cx="1028" cy="2334.29" r="9.2" fill="black"/>
<circle cx="1019.3" cy="2334.29" r="9.2" fill="black"/>
<circle cx="1010.5" cy="2334.29" r="9.2" fill="black"/>
<circle cx="1001.8" cy="2334.29" r="9.2" fill="black"/>
<circle cx="1084.2" cy="2278.91" r="9" fill="#1596ad" stroke="black" stroke-width="1.7"/>
<circle cx="1084.2" cy="2306.6" r="9" fill="#1596ad" stroke="black" stroke-width="1.7"/>
<circle cx="1097.2" cy="2334.29" r="9" fill="#1596ad" stroke="black" stroke-width="1.7"/>
<circle cx="1088.5" cy="2334.29" r="9" fill="#1596ad" stroke="black" stroke-width="1.7"/>
<circle cx="1080" cy="2334.29" r="9" fill="#1596ad" stroke="black" stroke-width="1.7"/>
<circle cx="1071.2" cy="2334.29" r="9" fill="#1596ad" stroke="black" stroke-width="1.7"/>
<circle cx="1141.5" cy="2306.6" r="9" fill="#5aa2f5" stroke="black" stroke-width="1.7"/>
<circle cx="1167.3" cy="2306.6" r="9" fill="#5aa2f5" stroke="black" stroke-width="1.7"/>
<circle cx="1155" cy="2306.6" r="9" fill="#5aa2f5" stroke="black" stroke-width="1.7"/>
<circle cx="1146.8" cy="2306.6" r="9" fill="#5aa2f5" stroke="black" stroke-width="1.7"/>
<circle cx="1161.9" cy="2306.6" r="9" fill="#5aa2f5" stroke="black" stroke-width="1.7"/>
<circle cx="1167.3" cy="2334.29" r="9" fill="#5aa2f5" stroke="black" stroke-width="1.7"/>
<circle cx="1158.7" cy="2334.29" r="9" fill="#5aa2f5" stroke="black" stroke-width="1.7"/>
<circle cx="1150.1" cy="2334.29" r="9" fill="#5aa2f5" stroke="black" stroke-width="1.7"/>
<circle cx="1141.5" cy="2334.29" r="9" fill="#5aa2f5" stroke="black" stroke-width="1.7"/>
<circle cx="1148" cy="2334.29" r="9" fill="#5aa2f5" stroke="black" stroke-width="1.7"/>
<circle cx="1235.5" cy="2306.6" r="9.3" fill="#0000ff" stroke="white" stroke-width="1.6"/>
<circle cx="1228" cy="2306.6" r="9.3" fill="#0000ff" stroke="white" stroke-width="1.6"/>
<circle cx="1220" cy="2306.6" r="9.3" fill="#0000ff" stroke="white" stroke-width="1.6"/>
<circle cx="1212.3" cy="2306.6" r="9.3" fill="#0000ff" stroke="white" stroke-width="1.6"/>
<line x1="909.8" y1="2083" x2="1077.2" y2="2083" stroke="#000" stroke-width="5.2" stroke-linecap="butt"/>
<line x1="909.8" y1="2067.4" x2="909.8" y2="2099.6" stroke="#000" stroke-width="5.2" stroke-linecap="butt"/>
<line x1="1077.2" y1="2067.4" x2="1077.2" y2="2099.6" stroke="#000" stroke-width="5.2" stroke-linecap="butt"/>
<path d="M874.7,2134.7 L874.7,2117.2 L940.7,2117.2 L940.7,2134.7" fill="none" stroke="#000" stroke-width="5.2" stroke-linejoin="miter"/>
<path d="M1012.3,2137.5 L1012.3,2117.2 L1224.6,2117.2 L1224.6,2137.5" fill="none" stroke="#000" stroke-width="5.2" stroke-linejoin="miter"/>
<text x="969.6" y="2078.85" font-size="45" font-weight="bold" text-anchor="middle" fill="#000" >*</text>
<text x="991.6" y="2078.85" font-size="45" font-weight="bold" text-anchor="middle" fill="#000" >*</text>
<text x="1013.6" y="2078.85" font-size="45" font-weight="bold" text-anchor="middle" fill="#000" >*</text>
<text x="1035.6" y="2078.85" font-size="45" font-weight="bold" text-anchor="middle" fill="#000" >*</text>
</svg></body></html>
